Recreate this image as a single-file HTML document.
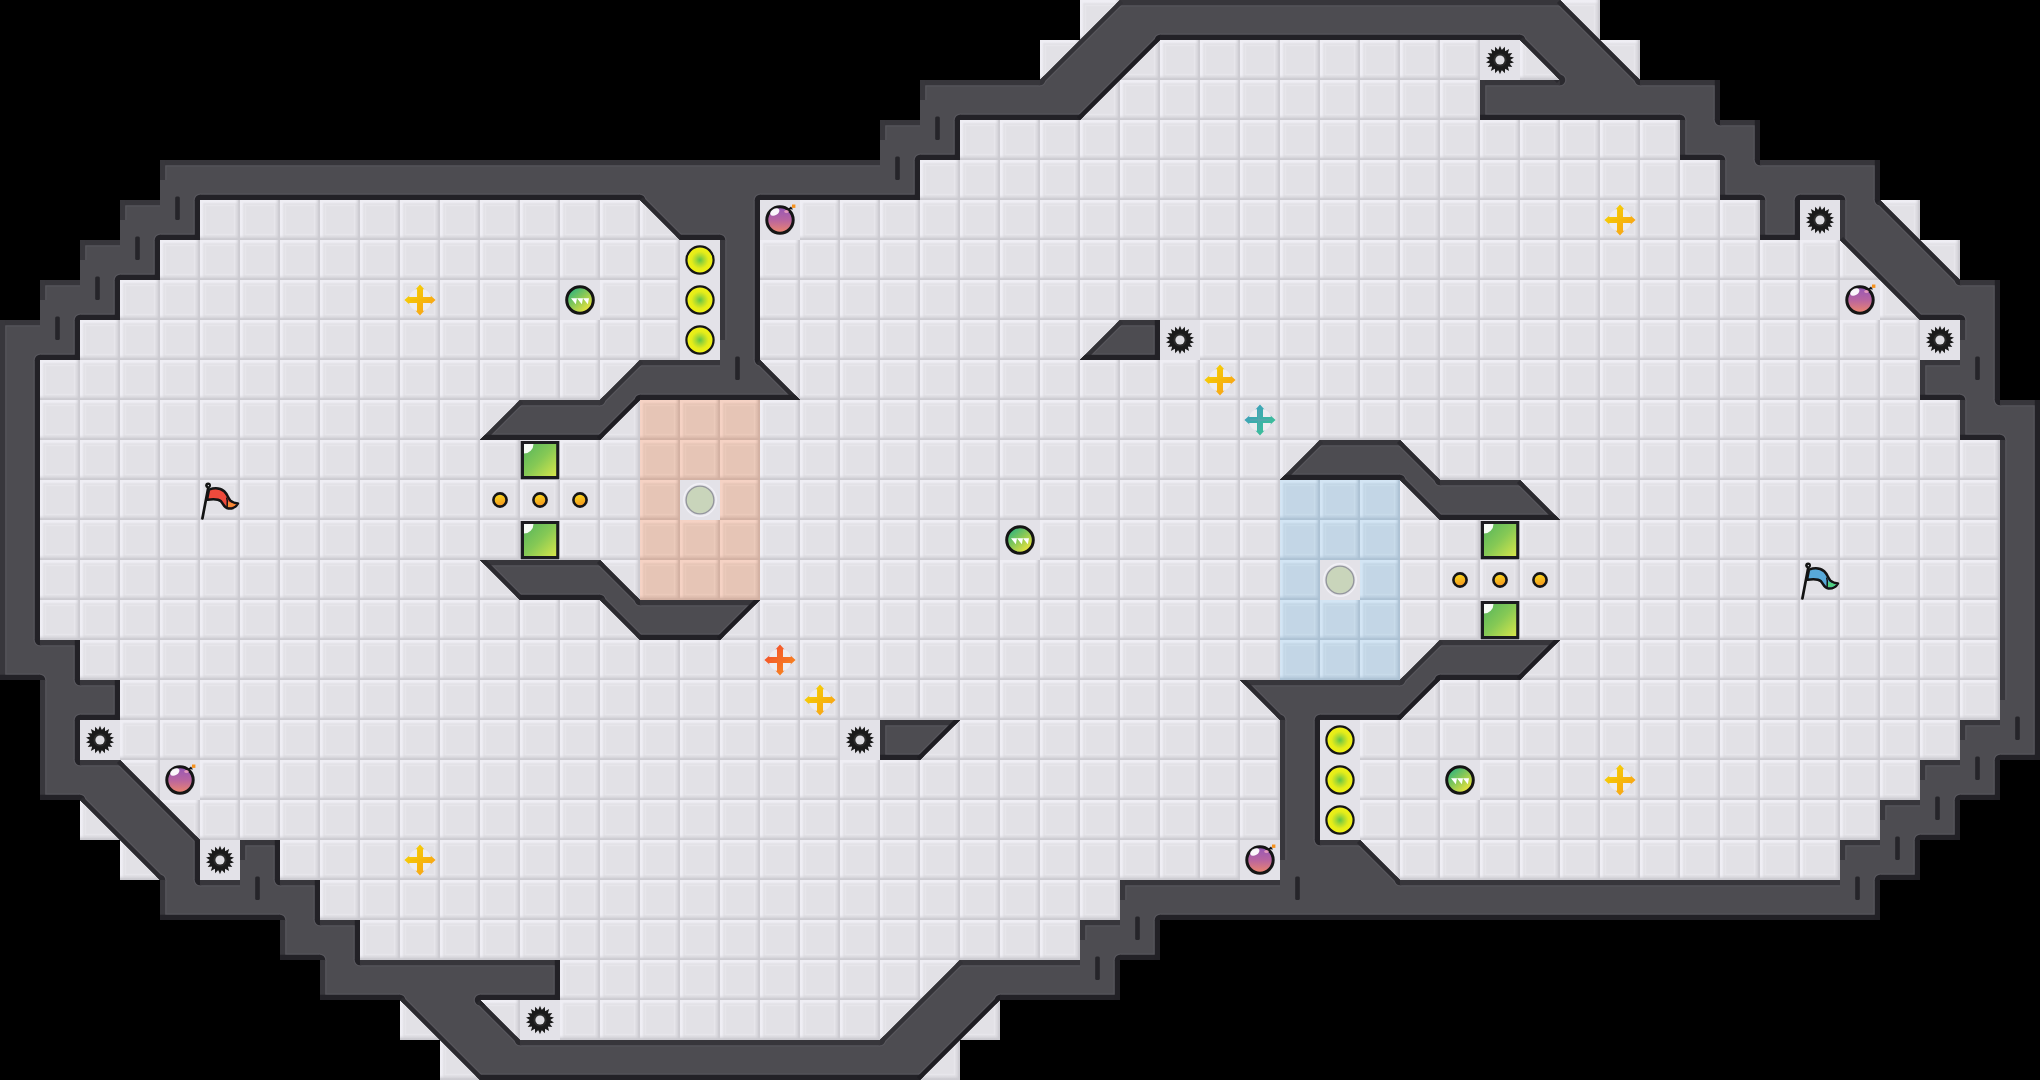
<!DOCTYPE html><html><head><meta charset="utf-8"><title>map</title><style>html,body{margin:0;padding:0;background:#000;overflow:hidden}svg{display:block;filter:blur(0.4px)}</style></head><body>
<svg width="2040" height="1080" viewBox="0 0 2040 1080">
<defs>
<linearGradient id="pfl" x1="0" y1="0" x2="1" y2="0"><stop offset="0" stop-color="#efeef4"/><stop offset="0.5" stop-color="#efeef4"/><stop offset="1" stop-color="#efeef4" stop-opacity="0"/></linearGradient><linearGradient id="pft" x1="0" y1="0" x2="0" y2="1"><stop offset="0" stop-color="#efeef4"/><stop offset="0.5" stop-color="#efeef4"/><stop offset="1" stop-color="#efeef4" stop-opacity="0"/></linearGradient><linearGradient id="pfr" x1="0" y1="0" x2="1" y2="0"><stop offset="0" stop-color="#cccbd1" stop-opacity="0"/><stop offset="0.45" stop-color="#cccbd1" stop-opacity="0.4"/><stop offset="0.75" stop-color="#cccbd1"/><stop offset="1" stop-color="#cccbd1"/></linearGradient><linearGradient id="pfb" x1="0" y1="0" x2="0" y2="1"><stop offset="0" stop-color="#cccbd1" stop-opacity="0"/><stop offset="0.45" stop-color="#cccbd1" stop-opacity="0.4"/><stop offset="0.75" stop-color="#cccbd1"/><stop offset="1" stop-color="#cccbd1"/></linearGradient><pattern id="pf" width="40" height="40" patternUnits="userSpaceOnUse"><rect width="40" height="40" fill="#e2e1e6"/><rect x="5.5" y="5.5" width="29" height="29" fill="none" stroke="#e7e6eb" stroke-width="1.4"/><rect x="0" y="0" width="40" height="4" fill="url(#pft)"/><rect x="0" y="0" width="4" height="40" fill="url(#pfl)"/><rect x="0" y="35" width="40" height="5" fill="url(#pfb)"/><rect x="35" y="0" width="5" height="40" fill="url(#pfr)"/></pattern>
<linearGradient id="prl" x1="0" y1="0" x2="1" y2="0"><stop offset="0" stop-color="#f5d2c4"/><stop offset="0.5" stop-color="#f5d2c4"/><stop offset="1" stop-color="#f5d2c4" stop-opacity="0"/></linearGradient><linearGradient id="prt" x1="0" y1="0" x2="0" y2="1"><stop offset="0" stop-color="#f5d2c4"/><stop offset="0.5" stop-color="#f5d2c4"/><stop offset="1" stop-color="#f5d2c4" stop-opacity="0"/></linearGradient><linearGradient id="prr" x1="0" y1="0" x2="1" y2="0"><stop offset="0" stop-color="#d3b1a3" stop-opacity="0"/><stop offset="0.45" stop-color="#d3b1a3" stop-opacity="0.4"/><stop offset="0.75" stop-color="#d3b1a3"/><stop offset="1" stop-color="#d3b1a3"/></linearGradient><linearGradient id="prb" x1="0" y1="0" x2="0" y2="1"><stop offset="0" stop-color="#d3b1a3" stop-opacity="0"/><stop offset="0.45" stop-color="#d3b1a3" stop-opacity="0.4"/><stop offset="0.75" stop-color="#d3b1a3"/><stop offset="1" stop-color="#d3b1a3"/></linearGradient><pattern id="pr" width="40" height="40" patternUnits="userSpaceOnUse"><rect width="40" height="40" fill="#e6c5b6"/><rect x="5.5" y="5.5" width="29" height="29" fill="none" stroke="#ebcabb" stroke-width="1.4"/><rect x="0" y="0" width="40" height="4" fill="url(#prt)"/><rect x="0" y="0" width="4" height="40" fill="url(#prl)"/><rect x="0" y="35" width="40" height="5" fill="url(#prb)"/><rect x="35" y="0" width="5" height="40" fill="url(#prr)"/></pattern>
<linearGradient id="pul" x1="0" y1="0" x2="1" y2="0"><stop offset="0" stop-color="#d3e5f4"/><stop offset="0.5" stop-color="#d3e5f4"/><stop offset="1" stop-color="#d3e5f4" stop-opacity="0"/></linearGradient><linearGradient id="put" x1="0" y1="0" x2="0" y2="1"><stop offset="0" stop-color="#d3e5f4"/><stop offset="0.5" stop-color="#d3e5f4"/><stop offset="1" stop-color="#d3e5f4" stop-opacity="0"/></linearGradient><linearGradient id="pur" x1="0" y1="0" x2="1" y2="0"><stop offset="0" stop-color="#adc2d4" stop-opacity="0"/><stop offset="0.45" stop-color="#adc2d4" stop-opacity="0.4"/><stop offset="0.75" stop-color="#adc2d4"/><stop offset="1" stop-color="#adc2d4"/></linearGradient><linearGradient id="pub" x1="0" y1="0" x2="0" y2="1"><stop offset="0" stop-color="#adc2d4" stop-opacity="0"/><stop offset="0.45" stop-color="#adc2d4" stop-opacity="0.4"/><stop offset="0.75" stop-color="#adc2d4"/><stop offset="1" stop-color="#adc2d4"/></linearGradient><pattern id="pu" width="40" height="40" patternUnits="userSpaceOnUse"><rect width="40" height="40" fill="#c3d6e6"/><rect x="5.5" y="5.5" width="29" height="29" fill="none" stroke="#c8dbea" stroke-width="1.4"/><rect x="0" y="0" width="40" height="4" fill="url(#put)"/><rect x="0" y="0" width="4" height="40" fill="url(#pul)"/><rect x="0" y="35" width="40" height="5" fill="url(#pub)"/><rect x="35" y="0" width="5" height="40" fill="url(#pur)"/></pattern>
<linearGradient id="gb" x1="0" y1="0" x2="0" y2="1"><stop offset="0" stop-color="#9457b8"/><stop offset="0.5" stop-color="#b865a0"/><stop offset="1" stop-color="#ee866a"/></linearGradient>
<linearGradient id="gy" x1="0" y1="0" x2="1" y2="1"><stop offset="0" stop-color="#f4dc00"/><stop offset="1" stop-color="#f9981c"/></linearGradient>
<linearGradient id="go" x1="0" y1="0" x2="1" y2="1"><stop offset="0" stop-color="#f3452e"/><stop offset="1" stop-color="#f8921e"/></linearGradient>
<linearGradient id="gt" x1="0" y1="0" x2="1" y2="1"><stop offset="0" stop-color="#3f97c6"/><stop offset="1" stop-color="#3bc98c"/></linearGradient>
<linearGradient id="gp" x1="0.15" y1="0.1" x2="0.85" y2="0.9"><stop offset="0" stop-color="#2fb37e"/><stop offset="0.45" stop-color="#86c858"/><stop offset="1" stop-color="#f4e63a"/></linearGradient>
<radialGradient id="gg" cx="0.5" cy="0.5" r="0.5"><stop offset="0" stop-color="#5ec548"/><stop offset="0.3" stop-color="#a6d832"/><stop offset="0.62" stop-color="#e4ec1a"/><stop offset="1" stop-color="#f2f314"/></radialGradient>
<linearGradient id="gga" x1="0" y1="0" x2="1" y2="1"><stop offset="0" stop-color="#55b55c"/><stop offset="0.5" stop-color="#86c955"/><stop offset="1" stop-color="#d6e64a"/></linearGradient>
<linearGradient id="gbt" x1="0" y1="0" x2="0.3" y2="1"><stop offset="0" stop-color="#f8e41c"/><stop offset="1" stop-color="#f59a20"/></linearGradient>

<g id="spike"><polygon points="0.00,-14.20 1.77,-10.05 4.86,-13.34 5.10,-8.83 9.13,-10.88 7.81,-6.56 12.30,-7.10 9.58,-3.49 13.98,-2.47 10.20,0.00 13.98,2.47 9.58,3.49 12.30,7.10 7.81,6.56 9.13,10.88 5.10,8.83 4.86,13.34 1.77,10.05 0.00,14.20 -1.77,10.05 -4.86,13.34 -5.10,8.83 -9.13,10.88 -7.81,6.56 -12.30,7.10 -9.58,3.49 -13.98,2.47 -10.20,0.00 -13.98,-2.47 -9.58,-3.49 -12.30,-7.10 -7.81,-6.56 -9.13,-10.88 -5.10,-8.83 -4.86,-13.34 -1.77,-10.05" fill="#1b1b1b"/><circle r="10.4" fill="#1b1b1b"/><circle r="6.6" fill="#2b2b2b"/><circle r="4.6" fill="#dedde2"/></g>
<g id="bomb"><circle r="13.2" fill="url(#gb)" stroke="#151515" stroke-width="3"/><path d="M8,-11 L11,-13.5 L13,-10.5 Z" fill="#151515"/><ellipse cx="-5.2" cy="-8" rx="5" ry="3.2" fill="#fff" opacity="0.95" transform="rotate(-30 -5.2 -8)"/><ellipse cx="6.5" cy="-8.5" rx="2.2" ry="1.6" fill="#f3a6c0" opacity="0.8"/><rect x="12" y="-15.5" width="3.4" height="3.4" fill="#f7931e"/></g>
<g id="by"><circle r="12" fill="#fff" opacity="0.42"/><circle r="12" fill="none" stroke="#dcdaea" stroke-width="1" opacity="0.6"/><path d="M-3.0,-3.0 L-3.0,-11.0 L-4.7,-10.2 L0,-15.6 L4.7,-10.2 L3.0,-11.0 L3.0,-3.0 L11.0,-3.0 L10.2,-4.7 L15.6,0 L10.2,4.7 L11.0,3.0 L3.0,3.0 L3.0,11.0 L4.7,10.2 L0,15.6 L-4.7,10.2 L-3.0,11.0 L-3.0,3.0 L-11.0,3.0 L-10.2,4.7 L-15.6,0 L-10.2,-4.7 L-11.0,-3.0 Z" fill="url(#gy)"/><path d="M-1,-10 V10 M-10,0 H10" stroke="#f6b800" stroke-width="1.3" opacity="0.55" fill="none"/></g>
<g id="bo"><circle r="12" fill="#fff" opacity="0.42"/><circle r="12" fill="none" stroke="#dcdaea" stroke-width="1" opacity="0.6"/><path d="M-3.0,-3.0 L-3.0,-11.0 L-4.7,-10.2 L0,-15.6 L4.7,-10.2 L3.0,-11.0 L3.0,-3.0 L11.0,-3.0 L10.2,-4.7 L15.6,0 L10.2,4.7 L11.0,3.0 L3.0,3.0 L3.0,11.0 L4.7,10.2 L0,15.6 L-4.7,10.2 L-3.0,11.0 L-3.0,3.0 L-11.0,3.0 L-10.2,4.7 L-15.6,0 L-10.2,-4.7 L-11.0,-3.0 Z" fill="url(#go)"/><path d="M-1,-10 V10 M-10,0 H10" stroke="#f0702a" stroke-width="1.3" opacity="0.55" fill="none"/></g>
<g id="bt"><circle r="12" fill="#fff" opacity="0.42"/><circle r="12" fill="none" stroke="#dcdaea" stroke-width="1" opacity="0.6"/><path d="M-3.0,-3.0 L-3.0,-11.0 L-4.7,-10.2 L0,-15.6 L4.7,-10.2 L3.0,-11.0 L3.0,-3.0 L11.0,-3.0 L10.2,-4.7 L15.6,0 L10.2,4.7 L11.0,3.0 L3.0,3.0 L3.0,11.0 L4.7,10.2 L0,15.6 L-4.7,10.2 L-3.0,11.0 L-3.0,3.0 L-11.0,3.0 L-10.2,4.7 L-15.6,0 L-10.2,-4.7 L-11.0,-3.0 Z" fill="url(#gt)"/><path d="M-1,-10 V10 M-10,0 H10" stroke="#6f9fb0" stroke-width="1.3" opacity="0.55" fill="none"/></g>
<g id="pup"><circle r="13.3" fill="url(#gp)" stroke="#151515" stroke-width="3"/><path d="M-9,-1.8 h6 l-1.2,6 Z M-3,-1.8 h6 l-1.2,6 Z M3,-1.8 h6 l-1.2,6 Z" fill="#fff"/></g>
<g id="ball"><circle r="13.6" fill="url(#gg)" stroke="#151515" stroke-width="2.2"/></g>
<g id="gate"><rect x="-20" y="-20" width="40" height="40" fill="#e3e2e8"/><rect x="-19.3" y="-19" width="38.6" height="38.3" fill="#1c1c20"/><rect x="-16" y="-16" width="32.2" height="32" fill="url(#gga)"/><path d="M-16,-16 h9.5 a9.5,9.5 0 0 1 -9.5,9.5 Z" fill="#fff" opacity="0.95"/></g>
<g id="btn"><circle r="6.6" fill="url(#gbt)" stroke="#151515" stroke-width="2.6"/></g>
<g id="disc"><circle r="16.2" fill="none" stroke="#f1f0f6" stroke-width="1.4"/><circle r="13.9" fill="#c9d5bb" stroke="#94969d" stroke-width="1.4"/></g>
<g id="fr"><path d="M-17.6,18.4 L-11.8,-12" stroke="#141414" stroke-width="2.7" stroke-linecap="round" fill="none"/><circle cx="-11.9" cy="-14.7" r="2.9" fill="#141414"/><circle cx="-11.6" cy="-14.4" r="0.7" fill="#e8e8ec"/><path d="M-11,-10.4 C-6,-12.2 0,-12.2 4.2,-8.8 C7.4,-6 8,-1.8 10.5,0.7 C13,2.9 15.8,3.3 18,3.5 C16.4,6.4 12.6,8.8 8.4,8.6 C4,8.2 3.5,4 1,1.3 C-2.5,-1.8 -8,-0.9 -13,-0.2 Z" fill="#ee4a3c" stroke="#141414" stroke-width="2.5" stroke-linejoin="round"/><path d="M7.4,1.6 L16,4.4 C14,6.5 11,7.4 7.4,7 Z" fill="#f58a34"/><path d="M6.6,-2.5 C8,1 7.4,4 7,7.6" stroke="#141414" stroke-width="1.5" fill="none"/></g>
<g id="fb"><path d="M-17.6,18.4 L-11.8,-12" stroke="#141414" stroke-width="2.7" stroke-linecap="round" fill="none"/><circle cx="-11.9" cy="-14.7" r="2.9" fill="#141414"/><circle cx="-11.6" cy="-14.4" r="0.7" fill="#e8e8ec"/><path d="M-11,-10.4 C-6,-12.2 0,-12.2 4.2,-8.8 C7.4,-6 8,-1.8 10.5,0.7 C13,2.9 15.8,3.3 18,3.5 C16.4,6.4 12.6,8.8 8.4,8.6 C4,8.2 3.5,4 1,1.3 C-2.5,-1.8 -8,-0.9 -13,-0.2 Z" fill="#58a9d9" stroke="#141414" stroke-width="2.5" stroke-linejoin="round"/><path d="M7.4,1.6 L16,4.4 C14,6.5 11,7.4 7.4,7 Z" fill="#4fcf7e"/><path d="M6.6,-2.5 C8,1 7.4,4 7,7.6" stroke="#141414" stroke-width="1.5" fill="none"/></g>
<clipPath id="wc"><path d="M1120,0 1120,40 1080,40ZM1120,0 1160,0 1160,40 1120,40ZM1160,0 1200,0 1200,40 1160,40ZM1200,0 1240,0 1240,40 1200,40ZM1240,0 1280,0 1280,40 1240,40ZM1280,0 1320,0 1320,40 1280,40ZM1320,0 1360,0 1360,40 1320,40ZM1360,0 1400,0 1400,40 1360,40ZM1400,0 1440,0 1440,40 1400,40ZM1440,0 1480,0 1480,40 1440,40ZM1480,0 1520,0 1520,40 1480,40ZM1520,0 1560,0 1560,40 1520,40ZM1560,0 1600,40 1560,40ZM1080,40 1080,80 1040,80ZM1080,40 1120,40 1120,80 1080,80ZM1120,40 1160,40 1120,80ZM1520,40 1560,40 1560,80ZM1560,40 1600,40 1600,80 1560,80ZM1600,40 1640,80 1600,80ZM920,80 960,80 960,120 920,120ZM960,80 1000,80 1000,120 960,120ZM1000,80 1040,80 1040,120 1000,120ZM1040,80 1080,80 1080,120 1040,120ZM1080,80 1120,80 1080,120ZM1480,80 1520,80 1520,120 1480,120ZM1520,80 1560,80 1560,120 1520,120ZM1560,80 1600,80 1600,120 1560,120ZM1600,80 1640,80 1640,120 1600,120ZM1640,80 1680,80 1680,120 1640,120ZM1680,80 1720,80 1720,120 1680,120ZM880,120 920,120 920,160 880,160ZM920,120 960,120 960,160 920,160ZM1680,120 1720,120 1720,160 1680,160ZM1720,120 1760,120 1760,160 1720,160ZM160,160 200,160 200,200 160,200ZM200,160 240,160 240,200 200,200ZM240,160 280,160 280,200 240,200ZM280,160 320,160 320,200 280,200ZM320,160 360,160 360,200 320,200ZM360,160 400,160 400,200 360,200ZM400,160 440,160 440,200 400,200ZM440,160 480,160 480,200 440,200ZM480,160 520,160 520,200 480,200ZM520,160 560,160 560,200 520,200ZM560,160 600,160 600,200 560,200ZM600,160 640,160 640,200 600,200ZM640,160 680,160 680,200 640,200ZM680,160 720,160 720,200 680,200ZM720,160 760,160 760,200 720,200ZM760,160 800,160 800,200 760,200ZM800,160 840,160 840,200 800,200ZM840,160 880,160 880,200 840,200ZM880,160 920,160 920,200 880,200ZM1720,160 1760,160 1760,200 1720,200ZM1760,160 1800,160 1800,200 1760,200ZM1800,160 1840,160 1840,200 1800,200ZM1840,160 1880,160 1880,200 1840,200ZM120,200 160,200 160,240 120,240ZM160,200 200,200 200,240 160,240ZM640,200 680,200 680,240ZM680,200 720,200 720,240 680,240ZM720,200 760,200 760,240 720,240ZM1760,200 1800,200 1800,240 1760,240ZM1840,200 1880,200 1880,240 1840,240ZM1880,200 1920,240 1880,240ZM80,240 120,240 120,280 80,280ZM120,240 160,240 160,280 120,280ZM720,240 760,240 760,280 720,280ZM1840,240 1880,240 1880,280ZM1880,240 1920,240 1920,280 1880,280ZM1920,240 1960,280 1920,280ZM40,280 80,280 80,320 40,320ZM80,280 120,280 120,320 80,320ZM720,280 760,280 760,320 720,320ZM1880,280 1920,280 1920,320ZM1920,280 1960,280 1960,320 1920,320ZM1960,280 2000,280 2000,320 1960,320ZM0,320 40,320 40,360 0,360ZM40,320 80,320 80,360 40,360ZM720,320 760,320 760,360 720,360ZM1120,320 1120,360 1080,360ZM1120,320 1160,320 1160,360 1120,360ZM1960,320 2000,320 2000,360 1960,360ZM0,360 40,360 40,400 0,400ZM640,360 640,400 600,400ZM640,360 680,360 680,400 640,400ZM680,360 720,360 720,400 680,400ZM720,360 760,360 760,400 720,400ZM760,360 800,400 760,400ZM1920,360 1960,360 1960,400 1920,400ZM1960,360 2000,360 2000,400 1960,400ZM0,400 40,400 40,440 0,440ZM520,400 520,440 480,440ZM520,400 560,400 560,440 520,440ZM560,400 600,400 600,440 560,440ZM600,400 640,400 600,440ZM1960,400 2000,400 2000,440 1960,440ZM2000,400 2040,400 2040,440 2000,440ZM0,440 40,440 40,480 0,480ZM1320,440 1320,480 1280,480ZM1320,440 1360,440 1360,480 1320,480ZM1360,440 1400,440 1400,480 1360,480ZM1400,440 1440,480 1400,480ZM2000,440 2040,440 2040,480 2000,480ZM0,480 40,480 40,520 0,520ZM1400,480 1440,480 1440,520ZM1440,480 1480,480 1480,520 1440,520ZM1480,480 1520,480 1520,520 1480,520ZM1520,480 1560,520 1520,520ZM2000,480 2040,480 2040,520 2000,520ZM0,520 40,520 40,560 0,560ZM2000,520 2040,520 2040,560 2000,560ZM0,560 40,560 40,600 0,600ZM480,560 520,560 520,600ZM520,560 560,560 560,600 520,600ZM560,560 600,560 600,600 560,600ZM600,560 640,600 600,600ZM2000,560 2040,560 2040,600 2000,600ZM0,600 40,600 40,640 0,640ZM600,600 640,600 640,640ZM640,600 680,600 680,640 640,640ZM680,600 720,600 720,640 680,640ZM720,600 760,600 720,640ZM2000,600 2040,600 2040,640 2000,640ZM0,640 40,640 40,680 0,680ZM40,640 80,640 80,680 40,680ZM1440,640 1440,680 1400,680ZM1440,640 1480,640 1480,680 1440,680ZM1480,640 1520,640 1520,680 1480,680ZM1520,640 1560,640 1520,680ZM2000,640 2040,640 2040,680 2000,680ZM40,680 80,680 80,720 40,720ZM80,680 120,680 120,720 80,720ZM1240,680 1280,680 1280,720ZM1280,680 1320,680 1320,720 1280,720ZM1320,680 1360,680 1360,720 1320,720ZM1360,680 1400,680 1400,720 1360,720ZM1400,680 1440,680 1400,720ZM2000,680 2040,680 2040,720 2000,720ZM40,720 80,720 80,760 40,760ZM880,720 920,720 920,760 880,760ZM920,720 960,720 920,760ZM1280,720 1320,720 1320,760 1280,760ZM1960,720 2000,720 2000,760 1960,760ZM2000,720 2040,720 2040,760 2000,760ZM40,760 80,760 80,800 40,800ZM80,760 120,760 120,800 80,800ZM120,760 160,800 120,800ZM1280,760 1320,760 1320,800 1280,800ZM1920,760 1960,760 1960,800 1920,800ZM1960,760 2000,760 2000,800 1960,800ZM80,800 120,800 120,840ZM120,800 160,800 160,840 120,840ZM160,800 200,840 160,840ZM1280,800 1320,800 1320,840 1280,840ZM1880,800 1920,800 1920,840 1880,840ZM1920,800 1960,800 1960,840 1920,840ZM120,840 160,840 160,880ZM160,840 200,840 200,880 160,880ZM240,840 280,840 280,880 240,880ZM1280,840 1320,840 1320,880 1280,880ZM1320,840 1360,840 1360,880 1320,880ZM1360,840 1400,880 1360,880ZM1840,840 1880,840 1880,880 1840,880ZM1880,840 1920,840 1920,880 1880,880ZM160,880 200,880 200,920 160,920ZM200,880 240,880 240,920 200,920ZM240,880 280,880 280,920 240,920ZM280,880 320,880 320,920 280,920ZM1120,880 1160,880 1160,920 1120,920ZM1160,880 1200,880 1200,920 1160,920ZM1200,880 1240,880 1240,920 1200,920ZM1240,880 1280,880 1280,920 1240,920ZM1280,880 1320,880 1320,920 1280,920ZM1320,880 1360,880 1360,920 1320,920ZM1360,880 1400,880 1400,920 1360,920ZM1400,880 1440,880 1440,920 1400,920ZM1440,880 1480,880 1480,920 1440,920ZM1480,880 1520,880 1520,920 1480,920ZM1520,880 1560,880 1560,920 1520,920ZM1560,880 1600,880 1600,920 1560,920ZM1600,880 1640,880 1640,920 1600,920ZM1640,880 1680,880 1680,920 1640,920ZM1680,880 1720,880 1720,920 1680,920ZM1720,880 1760,880 1760,920 1720,920ZM1760,880 1800,880 1800,920 1760,920ZM1800,880 1840,880 1840,920 1800,920ZM1840,880 1880,880 1880,920 1840,920ZM280,920 320,920 320,960 280,960ZM320,920 360,920 360,960 320,960ZM1080,920 1120,920 1120,960 1080,960ZM1120,920 1160,920 1160,960 1120,960ZM320,960 360,960 360,1000 320,1000ZM360,960 400,960 400,1000 360,1000ZM400,960 440,960 440,1000 400,1000ZM440,960 480,960 480,1000 440,1000ZM480,960 520,960 520,1000 480,1000ZM520,960 560,960 560,1000 520,1000ZM960,960 960,1000 920,1000ZM960,960 1000,960 1000,1000 960,1000ZM1000,960 1040,960 1040,1000 1000,1000ZM1040,960 1080,960 1080,1000 1040,1000ZM1080,960 1120,960 1120,1000 1080,1000ZM400,1000 440,1000 440,1040ZM440,1000 480,1000 480,1040 440,1040ZM480,1000 520,1040 480,1040ZM920,1000 920,1040 880,1040ZM920,1000 960,1000 960,1040 920,1040ZM960,1000 1000,1000 960,1040ZM440,1040 480,1040 480,1080ZM480,1040 520,1040 520,1080 480,1080ZM520,1040 560,1040 560,1080 520,1080ZM560,1040 600,1040 600,1080 560,1080ZM600,1040 640,1040 640,1080 600,1080ZM640,1040 680,1040 680,1080 640,1080ZM680,1040 720,1040 720,1080 680,1080ZM720,1040 760,1040 760,1080 720,1080ZM760,1040 800,1040 800,1080 760,1080ZM800,1040 840,1040 840,1080 800,1080ZM840,1040 880,1040 880,1080 840,1080ZM880,1040 920,1040 920,1080 880,1080ZM920,1040 960,1040 920,1080Z"/></clipPath>
</defs>
<rect width="2040" height="1080" fill="#000"/>
<path d="M1080,0h40v40h-40zM1560,0h40v40h-40zM1040,40h40v40h-40zM1120,40h40v40h-40zM1160,40h40v40h-40zM1200,40h40v40h-40zM1240,40h40v40h-40zM1280,40h40v40h-40zM1320,40h40v40h-40zM1360,40h40v40h-40zM1400,40h40v40h-40zM1440,40h40v40h-40zM1520,40h40v40h-40zM1600,40h40v40h-40zM1080,80h40v40h-40zM1120,80h40v40h-40zM1160,80h40v40h-40zM1200,80h40v40h-40zM1240,80h40v40h-40zM1280,80h40v40h-40zM1320,80h40v40h-40zM1360,80h40v40h-40zM1400,80h40v40h-40zM1440,80h40v40h-40zM960,120h40v40h-40zM1000,120h40v40h-40zM1040,120h40v40h-40zM1080,120h40v40h-40zM1120,120h40v40h-40zM1160,120h40v40h-40zM1200,120h40v40h-40zM1240,120h40v40h-40zM1280,120h40v40h-40zM1320,120h40v40h-40zM1360,120h40v40h-40zM1400,120h40v40h-40zM1440,120h40v40h-40zM1480,120h40v40h-40zM1520,120h40v40h-40zM1560,120h40v40h-40zM1600,120h40v40h-40zM1640,120h40v40h-40zM920,160h40v40h-40zM960,160h40v40h-40zM1000,160h40v40h-40zM1040,160h40v40h-40zM1080,160h40v40h-40zM1120,160h40v40h-40zM1160,160h40v40h-40zM1200,160h40v40h-40zM1240,160h40v40h-40zM1280,160h40v40h-40zM1320,160h40v40h-40zM1360,160h40v40h-40zM1400,160h40v40h-40zM1440,160h40v40h-40zM1480,160h40v40h-40zM1520,160h40v40h-40zM1560,160h40v40h-40zM1600,160h40v40h-40zM1640,160h40v40h-40zM1680,160h40v40h-40zM200,200h40v40h-40zM240,200h40v40h-40zM280,200h40v40h-40zM320,200h40v40h-40zM360,200h40v40h-40zM400,200h40v40h-40zM440,200h40v40h-40zM480,200h40v40h-40zM520,200h40v40h-40zM560,200h40v40h-40zM600,200h40v40h-40zM640,200h40v40h-40zM800,200h40v40h-40zM840,200h40v40h-40zM880,200h40v40h-40zM920,200h40v40h-40zM960,200h40v40h-40zM1000,200h40v40h-40zM1040,200h40v40h-40zM1080,200h40v40h-40zM1120,200h40v40h-40zM1160,200h40v40h-40zM1200,200h40v40h-40zM1240,200h40v40h-40zM1280,200h40v40h-40zM1320,200h40v40h-40zM1360,200h40v40h-40zM1400,200h40v40h-40zM1440,200h40v40h-40zM1480,200h40v40h-40zM1520,200h40v40h-40zM1560,200h40v40h-40zM1600,200h40v40h-40zM1640,200h40v40h-40zM1680,200h40v40h-40zM1720,200h40v40h-40zM1880,200h40v40h-40zM160,240h40v40h-40zM200,240h40v40h-40zM240,240h40v40h-40zM280,240h40v40h-40zM320,240h40v40h-40zM360,240h40v40h-40zM400,240h40v40h-40zM440,240h40v40h-40zM480,240h40v40h-40zM520,240h40v40h-40zM560,240h40v40h-40zM600,240h40v40h-40zM640,240h40v40h-40zM760,240h40v40h-40zM800,240h40v40h-40zM840,240h40v40h-40zM880,240h40v40h-40zM920,240h40v40h-40zM960,240h40v40h-40zM1000,240h40v40h-40zM1040,240h40v40h-40zM1080,240h40v40h-40zM1120,240h40v40h-40zM1160,240h40v40h-40zM1200,240h40v40h-40zM1240,240h40v40h-40zM1280,240h40v40h-40zM1320,240h40v40h-40zM1360,240h40v40h-40zM1400,240h40v40h-40zM1440,240h40v40h-40zM1480,240h40v40h-40zM1520,240h40v40h-40zM1560,240h40v40h-40zM1600,240h40v40h-40zM1640,240h40v40h-40zM1680,240h40v40h-40zM1720,240h40v40h-40zM1760,240h40v40h-40zM1800,240h40v40h-40zM1840,240h40v40h-40zM1920,240h40v40h-40zM120,280h40v40h-40zM160,280h40v40h-40zM200,280h40v40h-40zM240,280h40v40h-40zM280,280h40v40h-40zM320,280h40v40h-40zM360,280h40v40h-40zM400,280h40v40h-40zM440,280h40v40h-40zM480,280h40v40h-40zM520,280h40v40h-40zM600,280h40v40h-40zM640,280h40v40h-40zM760,280h40v40h-40zM800,280h40v40h-40zM840,280h40v40h-40zM880,280h40v40h-40zM920,280h40v40h-40zM960,280h40v40h-40zM1000,280h40v40h-40zM1040,280h40v40h-40zM1080,280h40v40h-40zM1120,280h40v40h-40zM1160,280h40v40h-40zM1200,280h40v40h-40zM1240,280h40v40h-40zM1280,280h40v40h-40zM1320,280h40v40h-40zM1360,280h40v40h-40zM1400,280h40v40h-40zM1440,280h40v40h-40zM1480,280h40v40h-40zM1520,280h40v40h-40zM1560,280h40v40h-40zM1600,280h40v40h-40zM1640,280h40v40h-40zM1680,280h40v40h-40zM1720,280h40v40h-40zM1760,280h40v40h-40zM1800,280h40v40h-40zM1880,280h40v40h-40zM80,320h40v40h-40zM120,320h40v40h-40zM160,320h40v40h-40zM200,320h40v40h-40zM240,320h40v40h-40zM280,320h40v40h-40zM320,320h40v40h-40zM360,320h40v40h-40zM400,320h40v40h-40zM440,320h40v40h-40zM480,320h40v40h-40zM520,320h40v40h-40zM560,320h40v40h-40zM600,320h40v40h-40zM640,320h40v40h-40zM760,320h40v40h-40zM800,320h40v40h-40zM840,320h40v40h-40zM880,320h40v40h-40zM920,320h40v40h-40zM960,320h40v40h-40zM1000,320h40v40h-40zM1040,320h40v40h-40zM1080,320h40v40h-40zM1200,320h40v40h-40zM1240,320h40v40h-40zM1280,320h40v40h-40zM1320,320h40v40h-40zM1360,320h40v40h-40zM1400,320h40v40h-40zM1440,320h40v40h-40zM1480,320h40v40h-40zM1520,320h40v40h-40zM1560,320h40v40h-40zM1600,320h40v40h-40zM1640,320h40v40h-40zM1680,320h40v40h-40zM1720,320h40v40h-40zM1760,320h40v40h-40zM1800,320h40v40h-40zM1840,320h40v40h-40zM1880,320h40v40h-40zM40,360h40v40h-40zM80,360h40v40h-40zM120,360h40v40h-40zM160,360h40v40h-40zM200,360h40v40h-40zM240,360h40v40h-40zM280,360h40v40h-40zM320,360h40v40h-40zM360,360h40v40h-40zM400,360h40v40h-40zM440,360h40v40h-40zM480,360h40v40h-40zM520,360h40v40h-40zM560,360h40v40h-40zM600,360h40v40h-40zM760,360h40v40h-40zM800,360h40v40h-40zM840,360h40v40h-40zM880,360h40v40h-40zM920,360h40v40h-40zM960,360h40v40h-40zM1000,360h40v40h-40zM1040,360h40v40h-40zM1080,360h40v40h-40zM1120,360h40v40h-40zM1160,360h40v40h-40zM1200,360h40v40h-40zM1240,360h40v40h-40zM1280,360h40v40h-40zM1320,360h40v40h-40zM1360,360h40v40h-40zM1400,360h40v40h-40zM1440,360h40v40h-40zM1480,360h40v40h-40zM1520,360h40v40h-40zM1560,360h40v40h-40zM1600,360h40v40h-40zM1640,360h40v40h-40zM1680,360h40v40h-40zM1720,360h40v40h-40zM1760,360h40v40h-40zM1800,360h40v40h-40zM1840,360h40v40h-40zM1880,360h40v40h-40zM40,400h40v40h-40zM80,400h40v40h-40zM120,400h40v40h-40zM160,400h40v40h-40zM200,400h40v40h-40zM240,400h40v40h-40zM280,400h40v40h-40zM320,400h40v40h-40zM360,400h40v40h-40zM400,400h40v40h-40zM440,400h40v40h-40zM480,400h40v40h-40zM600,400h40v40h-40zM760,400h40v40h-40zM800,400h40v40h-40zM840,400h40v40h-40zM880,400h40v40h-40zM920,400h40v40h-40zM960,400h40v40h-40zM1000,400h40v40h-40zM1040,400h40v40h-40zM1080,400h40v40h-40zM1120,400h40v40h-40zM1160,400h40v40h-40zM1200,400h40v40h-40zM1240,400h40v40h-40zM1280,400h40v40h-40zM1320,400h40v40h-40zM1360,400h40v40h-40zM1400,400h40v40h-40zM1440,400h40v40h-40zM1480,400h40v40h-40zM1520,400h40v40h-40zM1560,400h40v40h-40zM1600,400h40v40h-40zM1640,400h40v40h-40zM1680,400h40v40h-40zM1720,400h40v40h-40zM1760,400h40v40h-40zM1800,400h40v40h-40zM1840,400h40v40h-40zM1880,400h40v40h-40zM1920,400h40v40h-40zM40,440h40v40h-40zM80,440h40v40h-40zM120,440h40v40h-40zM160,440h40v40h-40zM200,440h40v40h-40zM240,440h40v40h-40zM280,440h40v40h-40zM320,440h40v40h-40zM360,440h40v40h-40zM400,440h40v40h-40zM440,440h40v40h-40zM480,440h40v40h-40zM520,440h40v40h-40zM560,440h40v40h-40zM600,440h40v40h-40zM760,440h40v40h-40zM800,440h40v40h-40zM840,440h40v40h-40zM880,440h40v40h-40zM920,440h40v40h-40zM960,440h40v40h-40zM1000,440h40v40h-40zM1040,440h40v40h-40zM1080,440h40v40h-40zM1120,440h40v40h-40zM1160,440h40v40h-40zM1200,440h40v40h-40zM1240,440h40v40h-40zM1280,440h40v40h-40zM1400,440h40v40h-40zM1440,440h40v40h-40zM1480,440h40v40h-40zM1520,440h40v40h-40zM1560,440h40v40h-40zM1600,440h40v40h-40zM1640,440h40v40h-40zM1680,440h40v40h-40zM1720,440h40v40h-40zM1760,440h40v40h-40zM1800,440h40v40h-40zM1840,440h40v40h-40zM1880,440h40v40h-40zM1920,440h40v40h-40zM1960,440h40v40h-40zM40,480h40v40h-40zM80,480h40v40h-40zM120,480h40v40h-40zM160,480h40v40h-40zM200,480h40v40h-40zM240,480h40v40h-40zM280,480h40v40h-40zM320,480h40v40h-40zM360,480h40v40h-40zM400,480h40v40h-40zM440,480h40v40h-40zM480,480h40v40h-40zM520,480h40v40h-40zM560,480h40v40h-40zM600,480h40v40h-40zM760,480h40v40h-40zM800,480h40v40h-40zM840,480h40v40h-40zM880,480h40v40h-40zM920,480h40v40h-40zM960,480h40v40h-40zM1000,480h40v40h-40zM1040,480h40v40h-40zM1080,480h40v40h-40zM1120,480h40v40h-40zM1160,480h40v40h-40zM1200,480h40v40h-40zM1240,480h40v40h-40zM1400,480h40v40h-40zM1520,480h40v40h-40zM1560,480h40v40h-40zM1600,480h40v40h-40zM1640,480h40v40h-40zM1680,480h40v40h-40zM1720,480h40v40h-40zM1760,480h40v40h-40zM1800,480h40v40h-40zM1840,480h40v40h-40zM1880,480h40v40h-40zM1920,480h40v40h-40zM1960,480h40v40h-40zM40,520h40v40h-40zM80,520h40v40h-40zM120,520h40v40h-40zM160,520h40v40h-40zM200,520h40v40h-40zM240,520h40v40h-40zM280,520h40v40h-40zM320,520h40v40h-40zM360,520h40v40h-40zM400,520h40v40h-40zM440,520h40v40h-40zM480,520h40v40h-40zM520,520h40v40h-40zM560,520h40v40h-40zM600,520h40v40h-40zM760,520h40v40h-40zM800,520h40v40h-40zM840,520h40v40h-40zM880,520h40v40h-40zM920,520h40v40h-40zM960,520h40v40h-40zM1040,520h40v40h-40zM1080,520h40v40h-40zM1120,520h40v40h-40zM1160,520h40v40h-40zM1200,520h40v40h-40zM1240,520h40v40h-40zM1400,520h40v40h-40zM1440,520h40v40h-40zM1480,520h40v40h-40zM1520,520h40v40h-40zM1560,520h40v40h-40zM1600,520h40v40h-40zM1640,520h40v40h-40zM1680,520h40v40h-40zM1720,520h40v40h-40zM1760,520h40v40h-40zM1800,520h40v40h-40zM1840,520h40v40h-40zM1880,520h40v40h-40zM1920,520h40v40h-40zM1960,520h40v40h-40zM40,560h40v40h-40zM80,560h40v40h-40zM120,560h40v40h-40zM160,560h40v40h-40zM200,560h40v40h-40zM240,560h40v40h-40zM280,560h40v40h-40zM320,560h40v40h-40zM360,560h40v40h-40zM400,560h40v40h-40zM440,560h40v40h-40zM480,560h40v40h-40zM600,560h40v40h-40zM760,560h40v40h-40zM800,560h40v40h-40zM840,560h40v40h-40zM880,560h40v40h-40zM920,560h40v40h-40zM960,560h40v40h-40zM1000,560h40v40h-40zM1040,560h40v40h-40zM1080,560h40v40h-40zM1120,560h40v40h-40zM1160,560h40v40h-40zM1200,560h40v40h-40zM1240,560h40v40h-40zM1400,560h40v40h-40zM1440,560h40v40h-40zM1480,560h40v40h-40zM1520,560h40v40h-40zM1560,560h40v40h-40zM1600,560h40v40h-40zM1640,560h40v40h-40zM1680,560h40v40h-40zM1720,560h40v40h-40zM1760,560h40v40h-40zM1800,560h40v40h-40zM1840,560h40v40h-40zM1880,560h40v40h-40zM1920,560h40v40h-40zM1960,560h40v40h-40zM40,600h40v40h-40zM80,600h40v40h-40zM120,600h40v40h-40zM160,600h40v40h-40zM200,600h40v40h-40zM240,600h40v40h-40zM280,600h40v40h-40zM320,600h40v40h-40zM360,600h40v40h-40zM400,600h40v40h-40zM440,600h40v40h-40zM480,600h40v40h-40zM520,600h40v40h-40zM560,600h40v40h-40zM600,600h40v40h-40zM720,600h40v40h-40zM760,600h40v40h-40zM800,600h40v40h-40zM840,600h40v40h-40zM880,600h40v40h-40zM920,600h40v40h-40zM960,600h40v40h-40zM1000,600h40v40h-40zM1040,600h40v40h-40zM1080,600h40v40h-40zM1120,600h40v40h-40zM1160,600h40v40h-40zM1200,600h40v40h-40zM1240,600h40v40h-40zM1400,600h40v40h-40zM1440,600h40v40h-40zM1480,600h40v40h-40zM1520,600h40v40h-40zM1560,600h40v40h-40zM1600,600h40v40h-40zM1640,600h40v40h-40zM1680,600h40v40h-40zM1720,600h40v40h-40zM1760,600h40v40h-40zM1800,600h40v40h-40zM1840,600h40v40h-40zM1880,600h40v40h-40zM1920,600h40v40h-40zM1960,600h40v40h-40zM80,640h40v40h-40zM120,640h40v40h-40zM160,640h40v40h-40zM200,640h40v40h-40zM240,640h40v40h-40zM280,640h40v40h-40zM320,640h40v40h-40zM360,640h40v40h-40zM400,640h40v40h-40zM440,640h40v40h-40zM480,640h40v40h-40zM520,640h40v40h-40zM560,640h40v40h-40zM600,640h40v40h-40zM640,640h40v40h-40zM680,640h40v40h-40zM720,640h40v40h-40zM760,640h40v40h-40zM800,640h40v40h-40zM840,640h40v40h-40zM880,640h40v40h-40zM920,640h40v40h-40zM960,640h40v40h-40zM1000,640h40v40h-40zM1040,640h40v40h-40zM1080,640h40v40h-40zM1120,640h40v40h-40zM1160,640h40v40h-40zM1200,640h40v40h-40zM1240,640h40v40h-40zM1400,640h40v40h-40zM1520,640h40v40h-40zM1560,640h40v40h-40zM1600,640h40v40h-40zM1640,640h40v40h-40zM1680,640h40v40h-40zM1720,640h40v40h-40zM1760,640h40v40h-40zM1800,640h40v40h-40zM1840,640h40v40h-40zM1880,640h40v40h-40zM1920,640h40v40h-40zM1960,640h40v40h-40zM120,680h40v40h-40zM160,680h40v40h-40zM200,680h40v40h-40zM240,680h40v40h-40zM280,680h40v40h-40zM320,680h40v40h-40zM360,680h40v40h-40zM400,680h40v40h-40zM440,680h40v40h-40zM480,680h40v40h-40zM520,680h40v40h-40zM560,680h40v40h-40zM600,680h40v40h-40zM640,680h40v40h-40zM680,680h40v40h-40zM720,680h40v40h-40zM760,680h40v40h-40zM800,680h40v40h-40zM840,680h40v40h-40zM880,680h40v40h-40zM920,680h40v40h-40zM960,680h40v40h-40zM1000,680h40v40h-40zM1040,680h40v40h-40zM1080,680h40v40h-40zM1120,680h40v40h-40zM1160,680h40v40h-40zM1200,680h40v40h-40zM1240,680h40v40h-40zM1400,680h40v40h-40zM1440,680h40v40h-40zM1480,680h40v40h-40zM1520,680h40v40h-40zM1560,680h40v40h-40zM1600,680h40v40h-40zM1640,680h40v40h-40zM1680,680h40v40h-40zM1720,680h40v40h-40zM1760,680h40v40h-40zM1800,680h40v40h-40zM1840,680h40v40h-40zM1880,680h40v40h-40zM1920,680h40v40h-40zM1960,680h40v40h-40zM120,720h40v40h-40zM160,720h40v40h-40zM200,720h40v40h-40zM240,720h40v40h-40zM280,720h40v40h-40zM320,720h40v40h-40zM360,720h40v40h-40zM400,720h40v40h-40zM440,720h40v40h-40zM480,720h40v40h-40zM520,720h40v40h-40zM560,720h40v40h-40zM600,720h40v40h-40zM640,720h40v40h-40zM680,720h40v40h-40zM720,720h40v40h-40zM760,720h40v40h-40zM800,720h40v40h-40zM920,720h40v40h-40zM960,720h40v40h-40zM1000,720h40v40h-40zM1040,720h40v40h-40zM1080,720h40v40h-40zM1120,720h40v40h-40zM1160,720h40v40h-40zM1200,720h40v40h-40zM1240,720h40v40h-40zM1360,720h40v40h-40zM1400,720h40v40h-40zM1440,720h40v40h-40zM1480,720h40v40h-40zM1520,720h40v40h-40zM1560,720h40v40h-40zM1600,720h40v40h-40zM1640,720h40v40h-40zM1680,720h40v40h-40zM1720,720h40v40h-40zM1760,720h40v40h-40zM1800,720h40v40h-40zM1840,720h40v40h-40zM1880,720h40v40h-40zM1920,720h40v40h-40zM120,760h40v40h-40zM200,760h40v40h-40zM240,760h40v40h-40zM280,760h40v40h-40zM320,760h40v40h-40zM360,760h40v40h-40zM400,760h40v40h-40zM440,760h40v40h-40zM480,760h40v40h-40zM520,760h40v40h-40zM560,760h40v40h-40zM600,760h40v40h-40zM640,760h40v40h-40zM680,760h40v40h-40zM720,760h40v40h-40zM760,760h40v40h-40zM800,760h40v40h-40zM840,760h40v40h-40zM880,760h40v40h-40zM920,760h40v40h-40zM960,760h40v40h-40zM1000,760h40v40h-40zM1040,760h40v40h-40zM1080,760h40v40h-40zM1120,760h40v40h-40zM1160,760h40v40h-40zM1200,760h40v40h-40zM1240,760h40v40h-40zM1360,760h40v40h-40zM1400,760h40v40h-40zM1480,760h40v40h-40zM1520,760h40v40h-40zM1560,760h40v40h-40zM1600,760h40v40h-40zM1640,760h40v40h-40zM1680,760h40v40h-40zM1720,760h40v40h-40zM1760,760h40v40h-40zM1800,760h40v40h-40zM1840,760h40v40h-40zM1880,760h40v40h-40zM80,800h40v40h-40zM160,800h40v40h-40zM200,800h40v40h-40zM240,800h40v40h-40zM280,800h40v40h-40zM320,800h40v40h-40zM360,800h40v40h-40zM400,800h40v40h-40zM440,800h40v40h-40zM480,800h40v40h-40zM520,800h40v40h-40zM560,800h40v40h-40zM600,800h40v40h-40zM640,800h40v40h-40zM680,800h40v40h-40zM720,800h40v40h-40zM760,800h40v40h-40zM800,800h40v40h-40zM840,800h40v40h-40zM880,800h40v40h-40zM920,800h40v40h-40zM960,800h40v40h-40zM1000,800h40v40h-40zM1040,800h40v40h-40zM1080,800h40v40h-40zM1120,800h40v40h-40zM1160,800h40v40h-40zM1200,800h40v40h-40zM1240,800h40v40h-40zM1360,800h40v40h-40zM1400,800h40v40h-40zM1440,800h40v40h-40zM1480,800h40v40h-40zM1520,800h40v40h-40zM1560,800h40v40h-40zM1600,800h40v40h-40zM1640,800h40v40h-40zM1680,800h40v40h-40zM1720,800h40v40h-40zM1760,800h40v40h-40zM1800,800h40v40h-40zM1840,800h40v40h-40zM120,840h40v40h-40zM280,840h40v40h-40zM320,840h40v40h-40zM360,840h40v40h-40zM400,840h40v40h-40zM440,840h40v40h-40zM480,840h40v40h-40zM520,840h40v40h-40zM560,840h40v40h-40zM600,840h40v40h-40zM640,840h40v40h-40zM680,840h40v40h-40zM720,840h40v40h-40zM760,840h40v40h-40zM800,840h40v40h-40zM840,840h40v40h-40zM880,840h40v40h-40zM920,840h40v40h-40zM960,840h40v40h-40zM1000,840h40v40h-40zM1040,840h40v40h-40zM1080,840h40v40h-40zM1120,840h40v40h-40zM1160,840h40v40h-40zM1200,840h40v40h-40zM1360,840h40v40h-40zM1400,840h40v40h-40zM1440,840h40v40h-40zM1480,840h40v40h-40zM1520,840h40v40h-40zM1560,840h40v40h-40zM1600,840h40v40h-40zM1640,840h40v40h-40zM1680,840h40v40h-40zM1720,840h40v40h-40zM1760,840h40v40h-40zM1800,840h40v40h-40zM320,880h40v40h-40zM360,880h40v40h-40zM400,880h40v40h-40zM440,880h40v40h-40zM480,880h40v40h-40zM520,880h40v40h-40zM560,880h40v40h-40zM600,880h40v40h-40zM640,880h40v40h-40zM680,880h40v40h-40zM720,880h40v40h-40zM760,880h40v40h-40zM800,880h40v40h-40zM840,880h40v40h-40zM880,880h40v40h-40zM920,880h40v40h-40zM960,880h40v40h-40zM1000,880h40v40h-40zM1040,880h40v40h-40zM1080,880h40v40h-40zM360,920h40v40h-40zM400,920h40v40h-40zM440,920h40v40h-40zM480,920h40v40h-40zM520,920h40v40h-40zM560,920h40v40h-40zM600,920h40v40h-40zM640,920h40v40h-40zM680,920h40v40h-40zM720,920h40v40h-40zM760,920h40v40h-40zM800,920h40v40h-40zM840,920h40v40h-40zM880,920h40v40h-40zM920,920h40v40h-40zM960,920h40v40h-40zM1000,920h40v40h-40zM1040,920h40v40h-40zM560,960h40v40h-40zM600,960h40v40h-40zM640,960h40v40h-40zM680,960h40v40h-40zM720,960h40v40h-40zM760,960h40v40h-40zM800,960h40v40h-40zM840,960h40v40h-40zM880,960h40v40h-40zM920,960h40v40h-40zM400,1000h40v40h-40zM480,1000h40v40h-40zM560,1000h40v40h-40zM600,1000h40v40h-40zM640,1000h40v40h-40zM680,1000h40v40h-40zM720,1000h40v40h-40zM760,1000h40v40h-40zM800,1000h40v40h-40zM840,1000h40v40h-40zM880,1000h40v40h-40zM960,1000h40v40h-40zM440,1040h40v40h-40zM920,1040h40v40h-40z" fill="url(#pf)"/>
<path d="M640,400h40v40h-40zM680,400h40v40h-40zM720,400h40v40h-40zM640,440h40v40h-40zM680,440h40v40h-40zM720,440h40v40h-40zM640,480h40v40h-40zM720,480h40v40h-40zM640,520h40v40h-40zM680,520h40v40h-40zM720,520h40v40h-40zM640,560h40v40h-40zM680,560h40v40h-40zM720,560h40v40h-40z" fill="url(#pr)"/>
<path d="M1280,480h40v40h-40zM1320,480h40v40h-40zM1360,480h40v40h-40zM1280,520h40v40h-40zM1320,520h40v40h-40zM1360,520h40v40h-40zM1280,560h40v40h-40zM1360,560h40v40h-40zM1280,600h40v40h-40zM1320,600h40v40h-40zM1360,600h40v40h-40zM1280,640h40v40h-40zM1320,640h40v40h-40zM1360,640h40v40h-40z" fill="url(#pu)"/>
<path d="M1480,40h40v40h-40zM760,200h40v40h-40zM1800,200h40v40h-40zM680,240h40v40h-40zM560,280h40v40h-40zM680,280h40v40h-40zM1840,280h40v40h-40zM680,320h40v40h-40zM1160,320h40v40h-40zM1920,320h40v40h-40zM680,480h40v40h-40zM1000,520h40v40h-40zM1320,560h40v40h-40zM80,720h40v40h-40zM840,720h40v40h-40zM1320,720h40v40h-40zM160,760h40v40h-40zM1320,760h40v40h-40zM1440,760h40v40h-40zM1320,800h40v40h-40zM200,840h40v40h-40zM1240,840h40v40h-40zM520,1000h40v40h-40z" fill="#e3e2e8"/>
<path d="M1120,0 1120,40 1080,40ZM1120,0 1160,0 1160,40 1120,40ZM1160,0 1200,0 1200,40 1160,40ZM1200,0 1240,0 1240,40 1200,40ZM1240,0 1280,0 1280,40 1240,40ZM1280,0 1320,0 1320,40 1280,40ZM1320,0 1360,0 1360,40 1320,40ZM1360,0 1400,0 1400,40 1360,40ZM1400,0 1440,0 1440,40 1400,40ZM1440,0 1480,0 1480,40 1440,40ZM1480,0 1520,0 1520,40 1480,40ZM1520,0 1560,0 1560,40 1520,40ZM1560,0 1600,40 1560,40ZM1080,40 1080,80 1040,80ZM1080,40 1120,40 1120,80 1080,80ZM1120,40 1160,40 1120,80ZM1520,40 1560,40 1560,80ZM1560,40 1600,40 1600,80 1560,80ZM1600,40 1640,80 1600,80ZM920,80 960,80 960,120 920,120ZM960,80 1000,80 1000,120 960,120ZM1000,80 1040,80 1040,120 1000,120ZM1040,80 1080,80 1080,120 1040,120ZM1080,80 1120,80 1080,120ZM1480,80 1520,80 1520,120 1480,120ZM1520,80 1560,80 1560,120 1520,120ZM1560,80 1600,80 1600,120 1560,120ZM1600,80 1640,80 1640,120 1600,120ZM1640,80 1680,80 1680,120 1640,120ZM1680,80 1720,80 1720,120 1680,120ZM880,120 920,120 920,160 880,160ZM920,120 960,120 960,160 920,160ZM1680,120 1720,120 1720,160 1680,160ZM1720,120 1760,120 1760,160 1720,160ZM160,160 200,160 200,200 160,200ZM200,160 240,160 240,200 200,200ZM240,160 280,160 280,200 240,200ZM280,160 320,160 320,200 280,200ZM320,160 360,160 360,200 320,200ZM360,160 400,160 400,200 360,200ZM400,160 440,160 440,200 400,200ZM440,160 480,160 480,200 440,200ZM480,160 520,160 520,200 480,200ZM520,160 560,160 560,200 520,200ZM560,160 600,160 600,200 560,200ZM600,160 640,160 640,200 600,200ZM640,160 680,160 680,200 640,200ZM680,160 720,160 720,200 680,200ZM720,160 760,160 760,200 720,200ZM760,160 800,160 800,200 760,200ZM800,160 840,160 840,200 800,200ZM840,160 880,160 880,200 840,200ZM880,160 920,160 920,200 880,200ZM1720,160 1760,160 1760,200 1720,200ZM1760,160 1800,160 1800,200 1760,200ZM1800,160 1840,160 1840,200 1800,200ZM1840,160 1880,160 1880,200 1840,200ZM120,200 160,200 160,240 120,240ZM160,200 200,200 200,240 160,240ZM640,200 680,200 680,240ZM680,200 720,200 720,240 680,240ZM720,200 760,200 760,240 720,240ZM1760,200 1800,200 1800,240 1760,240ZM1840,200 1880,200 1880,240 1840,240ZM1880,200 1920,240 1880,240ZM80,240 120,240 120,280 80,280ZM120,240 160,240 160,280 120,280ZM720,240 760,240 760,280 720,280ZM1840,240 1880,240 1880,280ZM1880,240 1920,240 1920,280 1880,280ZM1920,240 1960,280 1920,280ZM40,280 80,280 80,320 40,320ZM80,280 120,280 120,320 80,320ZM720,280 760,280 760,320 720,320ZM1880,280 1920,280 1920,320ZM1920,280 1960,280 1960,320 1920,320ZM1960,280 2000,280 2000,320 1960,320ZM0,320 40,320 40,360 0,360ZM40,320 80,320 80,360 40,360ZM720,320 760,320 760,360 720,360ZM1120,320 1120,360 1080,360ZM1120,320 1160,320 1160,360 1120,360ZM1960,320 2000,320 2000,360 1960,360ZM0,360 40,360 40,400 0,400ZM640,360 640,400 600,400ZM640,360 680,360 680,400 640,400ZM680,360 720,360 720,400 680,400ZM720,360 760,360 760,400 720,400ZM760,360 800,400 760,400ZM1920,360 1960,360 1960,400 1920,400ZM1960,360 2000,360 2000,400 1960,400ZM0,400 40,400 40,440 0,440ZM520,400 520,440 480,440ZM520,400 560,400 560,440 520,440ZM560,400 600,400 600,440 560,440ZM600,400 640,400 600,440ZM1960,400 2000,400 2000,440 1960,440ZM2000,400 2040,400 2040,440 2000,440ZM0,440 40,440 40,480 0,480ZM1320,440 1320,480 1280,480ZM1320,440 1360,440 1360,480 1320,480ZM1360,440 1400,440 1400,480 1360,480ZM1400,440 1440,480 1400,480ZM2000,440 2040,440 2040,480 2000,480ZM0,480 40,480 40,520 0,520ZM1400,480 1440,480 1440,520ZM1440,480 1480,480 1480,520 1440,520ZM1480,480 1520,480 1520,520 1480,520ZM1520,480 1560,520 1520,520ZM2000,480 2040,480 2040,520 2000,520ZM0,520 40,520 40,560 0,560ZM2000,520 2040,520 2040,560 2000,560ZM0,560 40,560 40,600 0,600ZM480,560 520,560 520,600ZM520,560 560,560 560,600 520,600ZM560,560 600,560 600,600 560,600ZM600,560 640,600 600,600ZM2000,560 2040,560 2040,600 2000,600ZM0,600 40,600 40,640 0,640ZM600,600 640,600 640,640ZM640,600 680,600 680,640 640,640ZM680,600 720,600 720,640 680,640ZM720,600 760,600 720,640ZM2000,600 2040,600 2040,640 2000,640ZM0,640 40,640 40,680 0,680ZM40,640 80,640 80,680 40,680ZM1440,640 1440,680 1400,680ZM1440,640 1480,640 1480,680 1440,680ZM1480,640 1520,640 1520,680 1480,680ZM1520,640 1560,640 1520,680ZM2000,640 2040,640 2040,680 2000,680ZM40,680 80,680 80,720 40,720ZM80,680 120,680 120,720 80,720ZM1240,680 1280,680 1280,720ZM1280,680 1320,680 1320,720 1280,720ZM1320,680 1360,680 1360,720 1320,720ZM1360,680 1400,680 1400,720 1360,720ZM1400,680 1440,680 1400,720ZM2000,680 2040,680 2040,720 2000,720ZM40,720 80,720 80,760 40,760ZM880,720 920,720 920,760 880,760ZM920,720 960,720 920,760ZM1280,720 1320,720 1320,760 1280,760ZM1960,720 2000,720 2000,760 1960,760ZM2000,720 2040,720 2040,760 2000,760ZM40,760 80,760 80,800 40,800ZM80,760 120,760 120,800 80,800ZM120,760 160,800 120,800ZM1280,760 1320,760 1320,800 1280,800ZM1920,760 1960,760 1960,800 1920,800ZM1960,760 2000,760 2000,800 1960,800ZM80,800 120,800 120,840ZM120,800 160,800 160,840 120,840ZM160,800 200,840 160,840ZM1280,800 1320,800 1320,840 1280,840ZM1880,800 1920,800 1920,840 1880,840ZM1920,800 1960,800 1960,840 1920,840ZM120,840 160,840 160,880ZM160,840 200,840 200,880 160,880ZM240,840 280,840 280,880 240,880ZM1280,840 1320,840 1320,880 1280,880ZM1320,840 1360,840 1360,880 1320,880ZM1360,840 1400,880 1360,880ZM1840,840 1880,840 1880,880 1840,880ZM1880,840 1920,840 1920,880 1880,880ZM160,880 200,880 200,920 160,920ZM200,880 240,880 240,920 200,920ZM240,880 280,880 280,920 240,920ZM280,880 320,880 320,920 280,920ZM1120,880 1160,880 1160,920 1120,920ZM1160,880 1200,880 1200,920 1160,920ZM1200,880 1240,880 1240,920 1200,920ZM1240,880 1280,880 1280,920 1240,920ZM1280,880 1320,880 1320,920 1280,920ZM1320,880 1360,880 1360,920 1320,920ZM1360,880 1400,880 1400,920 1360,920ZM1400,880 1440,880 1440,920 1400,920ZM1440,880 1480,880 1480,920 1440,920ZM1480,880 1520,880 1520,920 1480,920ZM1520,880 1560,880 1560,920 1520,920ZM1560,880 1600,880 1600,920 1560,920ZM1600,880 1640,880 1640,920 1600,920ZM1640,880 1680,880 1680,920 1640,920ZM1680,880 1720,880 1720,920 1680,920ZM1720,880 1760,880 1760,920 1720,920ZM1760,880 1800,880 1800,920 1760,920ZM1800,880 1840,880 1840,920 1800,920ZM1840,880 1880,880 1880,920 1840,920ZM280,920 320,920 320,960 280,960ZM320,920 360,920 360,960 320,960ZM1080,920 1120,920 1120,960 1080,960ZM1120,920 1160,920 1160,960 1120,960ZM320,960 360,960 360,1000 320,1000ZM360,960 400,960 400,1000 360,1000ZM400,960 440,960 440,1000 400,1000ZM440,960 480,960 480,1000 440,1000ZM480,960 520,960 520,1000 480,1000ZM520,960 560,960 560,1000 520,1000ZM960,960 960,1000 920,1000ZM960,960 1000,960 1000,1000 960,1000ZM1000,960 1040,960 1040,1000 1000,1000ZM1040,960 1080,960 1080,1000 1040,1000ZM1080,960 1120,960 1120,1000 1080,1000ZM400,1000 440,1000 440,1040ZM440,1000 480,1000 480,1040 440,1040ZM480,1000 520,1040 480,1040ZM920,1000 920,1040 880,1040ZM920,1000 960,1000 960,1040 920,1040ZM960,1000 1000,1000 960,1040ZM440,1040 480,1040 480,1080ZM480,1040 520,1040 520,1080 480,1080ZM520,1040 560,1040 560,1080 520,1080ZM560,1040 600,1040 600,1080 560,1080ZM600,1040 640,1040 640,1080 600,1080ZM640,1040 680,1040 680,1080 640,1080ZM680,1040 720,1040 720,1080 680,1080ZM720,1040 760,1040 760,1080 720,1080ZM760,1040 800,1040 800,1080 760,1080ZM800,1040 840,1040 840,1080 800,1080ZM840,1040 880,1040 880,1080 840,1080ZM880,1040 920,1040 920,1080 880,1080ZM920,1040 960,1040 920,1080Z" fill="#4d4c51"/>
<g clip-path="url(#wc)">
<path d="M1120,0L1140,0M1140,0L1160,0M1160,0L1180,0M1180,0L1200,0M1200,0L1220,0M1220,0L1240,0M1240,0L1260,0M1260,0L1280,0M1280,0L1300,0M1300,0L1320,0M1320,0L1340,0M1340,0L1360,0M1360,0L1380,0M1380,0L1400,0M1400,0L1420,0M1420,0L1440,0M1440,0L1460,0M1460,0L1480,0M1480,0L1500,0M1500,0L1520,0M1520,0L1540,0M1540,0L1560,0M920,80L940,80M940,80L960,80M960,80L980,80M980,80L1000,80M1000,80L1020,80M1020,80L1040,80M1480,80L1500,80M1500,80L1520,80M1520,80L1540,80M1540,80L1560,80M1640,80L1660,80M1660,80L1680,80M1680,80L1700,80M1700,80L1720,80M880,120L900,120M900,120L920,120M1720,120L1740,120M1740,120L1760,120M160,160L180,160M180,160L200,160M200,160L220,160M220,160L240,160M240,160L260,160M260,160L280,160M280,160L300,160M300,160L320,160M320,160L340,160M340,160L360,160M360,160L380,160M380,160L400,160M400,160L420,160M420,160L440,160M440,160L460,160M460,160L480,160M480,160L500,160M500,160L520,160M520,160L540,160M540,160L560,160M560,160L580,160M580,160L600,160M600,160L620,160M620,160L640,160M640,160L660,160M660,160L680,160M680,160L700,160M700,160L720,160M720,160L740,160M740,160L760,160M760,160L780,160M780,160L800,160M800,160L820,160M820,160L840,160M840,160L860,160M860,160L880,160M1760,160L1780,160M1780,160L1800,160M1800,160L1820,160M1820,160L1840,160M1840,160L1860,160M1860,160L1880,160M120,200L140,200M140,200L160,200M80,240L100,240M100,240L120,240M40,280L60,280M60,280L80,280M1960,280L1980,280M1980,280L2000,280M0,320L20,320M20,320L40,320M1120,320L1140,320M1140,320L1160,320M640,360L660,360M660,360L680,360M680,360L700,360M700,360L720,360M1920,360L1940,360M1940,360L1960,360M520,400L540,400M540,400L560,400M560,400L580,400M580,400L600,400M2000,400L2020,400M2020,400L2040,400M1320,440L1340,440M1340,440L1360,440M1360,440L1380,440M1380,440L1400,440M1440,480L1460,480M1460,480L1480,480M1480,480L1500,480M1500,480L1520,480M480,560L500,560M500,560L520,560M520,560L540,560M540,560L560,560M560,560L580,560M580,560L600,560M640,600L660,600M660,600L680,600M680,600L700,600M700,600L720,600M720,600L740,600M740,600L760,600M40,640L60,640M60,640L80,640M1440,640L1460,640M1460,640L1480,640M1480,640L1500,640M1500,640L1520,640M1520,640L1540,640M1540,640L1560,640M80,680L100,680M100,680L120,680M1240,680L1260,680M1260,680L1280,680M1280,680L1300,680M1300,680L1320,680M1320,680L1340,680M1340,680L1360,680M1360,680L1380,680M1380,680L1400,680M880,720L900,720M900,720L920,720M920,720L940,720M940,720L960,720M1960,720L1980,720M1980,720L2000,720M80,760L100,760M100,760L120,760M1920,760L1940,760M1940,760L1960,760M1880,800L1900,800M1900,800L1920,800M240,840L260,840M260,840L280,840M1320,840L1340,840M1340,840L1360,840M1840,840L1860,840M1860,840L1880,840M200,880L220,880M220,880L240,880M280,880L300,880M300,880L320,880M1120,880L1140,880M1140,880L1160,880M1160,880L1180,880M1180,880L1200,880M1200,880L1220,880M1220,880L1240,880M1240,880L1260,880M1260,880L1280,880M1400,880L1420,880M1420,880L1440,880M1440,880L1460,880M1460,880L1480,880M1480,880L1500,880M1500,880L1520,880M1520,880L1540,880M1540,880L1560,880M1560,880L1580,880M1580,880L1600,880M1600,880L1620,880M1620,880L1640,880M1640,880L1660,880M1660,880L1680,880M1680,880L1700,880M1700,880L1720,880M1720,880L1740,880M1740,880L1760,880M1760,880L1780,880M1780,880L1800,880M1800,880L1820,880M1820,880L1840,880M320,920L340,920M340,920L360,920M1080,920L1100,920M1100,920L1120,920M360,960L380,960M380,960L400,960M400,960L420,960M420,960L440,960M440,960L460,960M460,960L480,960M480,960L500,960M500,960L520,960M520,960L540,960M540,960L560,960M960,960L980,960M980,960L1000,960M1000,960L1020,960M1020,960L1040,960M1040,960L1060,960M1060,960L1080,960M520,1040L540,1040M540,1040L560,1040M560,1040L580,1040M580,1040L600,1040M600,1040L620,1040M620,1040L640,1040M640,1040L660,1040M660,1040L680,1040M680,1040L700,1040M700,1040L720,1040M720,1040L740,1040M740,1040L760,1040M760,1040L780,1040M780,1040L800,1040M800,1040L820,1040M820,1040L840,1040M840,1040L860,1040M860,1040L880,1040M920,80L920,100M1480,80L1480,100M1480,100L1480,120M880,120L880,140M1680,120L1680,140M1680,140L1680,160M160,160L160,180M1720,160L1720,180M1720,180L1720,200M120,200L120,220M1760,200L1760,220M1760,220L1760,240M1840,200L1840,220M1840,220L1840,240M80,240L80,260M720,240L720,260M720,260L720,280M40,280L40,300M720,280L720,300M720,300L720,320M0,320L0,340M0,340L0,360M720,320L720,340M1960,320L1960,340M0,360L0,380M0,380L0,400M1920,360L1920,380M1920,380L1920,400M0,400L0,420M0,420L0,440M1960,400L1960,420M1960,420L1960,440M0,440L0,460M0,460L0,480M2000,440L2000,460M2000,460L2000,480M0,480L0,500M0,500L0,520M2000,480L2000,500M2000,500L2000,520M0,520L0,540M0,540L0,560M2000,520L2000,540M2000,540L2000,560M0,560L0,580M0,580L0,600M2000,560L2000,580M2000,580L2000,600M0,600L0,620M0,620L0,640M2000,600L2000,620M2000,620L2000,640M0,640L0,660M0,660L0,680M2000,640L2000,660M2000,660L2000,680M40,680L40,700M40,700L40,720M2000,680L2000,700M40,720L40,740M40,740L40,760M880,720L880,740M880,740L880,760M1280,720L1280,740M1280,740L1280,760M1960,720L1960,740M40,760L40,780M40,780L40,800M1280,760L1280,780M1280,780L1280,800M1920,760L1920,780M1280,800L1280,820M1280,820L1280,840M1880,800L1880,820M240,840L240,860M1280,840L1280,860M1840,840L1840,860M160,880L160,900M160,900L160,920M1120,880L1120,900M280,920L280,940M280,940L280,960M1080,920L1080,940M320,960L320,980M320,980L320,1000M1160,40L1180,40M1180,40L1200,40M1200,40L1220,40M1220,40L1240,40M1240,40L1260,40M1260,40L1280,40M1280,40L1300,40M1300,40L1320,40M1320,40L1340,40M1340,40L1360,40M1360,40L1380,40M1380,40L1400,40M1400,40L1420,40M1420,40L1440,40M1440,40L1460,40M1460,40L1480,40M1480,40L1500,40M1500,40L1520,40M960,120L980,120M980,120L1000,120M1000,120L1020,120M1020,120L1040,120M1040,120L1060,120M1060,120L1080,120M1480,120L1500,120M1500,120L1520,120M1520,120L1540,120M1540,120L1560,120M1560,120L1580,120M1580,120L1600,120M1600,120L1620,120M1620,120L1640,120M1640,120L1660,120M1660,120L1680,120M920,160L940,160M940,160L960,160M1680,160L1700,160M1700,160L1720,160M200,200L220,200M220,200L240,200M240,200L260,200M260,200L280,200M280,200L300,200M300,200L320,200M320,200L340,200M340,200L360,200M360,200L380,200M380,200L400,200M400,200L420,200M420,200L440,200M440,200L460,200M460,200L480,200M480,200L500,200M500,200L520,200M520,200L540,200M540,200L560,200M560,200L580,200M580,200L600,200M600,200L620,200M620,200L640,200M760,200L780,200M780,200L800,200M800,200L820,200M820,200L840,200M840,200L860,200M860,200L880,200M880,200L900,200M900,200L920,200M1720,200L1740,200M1740,200L1760,200M1800,200L1820,200M1820,200L1840,200M160,240L180,240M180,240L200,240M680,240L700,240M700,240L720,240M1760,240L1780,240M1780,240L1800,240M120,280L140,280M140,280L160,280M80,320L100,320M100,320L120,320M1920,320L1940,320M1940,320L1960,320M40,360L60,360M60,360L80,360M1080,360L1100,360M1100,360L1120,360M1120,360L1140,360M1140,360L1160,360M640,400L660,400M660,400L680,400M680,400L700,400M700,400L720,400M720,400L740,400M740,400L760,400M760,400L780,400M780,400L800,400M1920,400L1940,400M1940,400L1960,400M480,440L500,440M500,440L520,440M520,440L540,440M540,440L560,440M560,440L580,440M580,440L600,440M1960,440L1980,440M1980,440L2000,440M1280,480L1300,480M1300,480L1320,480M1320,480L1340,480M1340,480L1360,480M1360,480L1380,480M1380,480L1400,480M1440,520L1460,520M1460,520L1480,520M1480,520L1500,520M1500,520L1520,520M1520,520L1540,520M1540,520L1560,520M520,600L540,600M540,600L560,600M560,600L580,600M580,600L600,600M640,640L660,640M660,640L680,640M680,640L700,640M700,640L720,640M0,680L20,680M20,680L40,680M1440,680L1460,680M1460,680L1480,680M1480,680L1500,680M1500,680L1520,680M80,720L100,720M100,720L120,720M1320,720L1340,720M1340,720L1360,720M1360,720L1380,720M1380,720L1400,720M880,760L900,760M900,760L920,760M2000,760L2020,760M2020,760L2040,760M40,800L60,800M60,800L80,800M1960,800L1980,800M1980,800L2000,800M1920,840L1940,840M1940,840L1960,840M1880,880L1900,880M1900,880L1920,880M160,920L180,920M180,920L200,920M200,920L220,920M220,920L240,920M240,920L260,920M260,920L280,920M1160,920L1180,920M1180,920L1200,920M1200,920L1220,920M1220,920L1240,920M1240,920L1260,920M1260,920L1280,920M1280,920L1300,920M1300,920L1320,920M1320,920L1340,920M1340,920L1360,920M1360,920L1380,920M1380,920L1400,920M1400,920L1420,920M1420,920L1440,920M1440,920L1460,920M1460,920L1480,920M1480,920L1500,920M1500,920L1520,920M1520,920L1540,920M1540,920L1560,920M1560,920L1580,920M1580,920L1600,920M1600,920L1620,920M1620,920L1640,920M1640,920L1660,920M1660,920L1680,920M1680,920L1700,920M1700,920L1720,920M1720,920L1740,920M1740,920L1760,920M1760,920L1780,920M1780,920L1800,920M1800,920L1820,920M1820,920L1840,920M1840,920L1860,920M1860,920L1880,920M280,960L300,960M300,960L320,960M1120,960L1140,960M1140,960L1160,960M320,1000L340,1000M340,1000L360,1000M360,1000L380,1000M380,1000L400,1000M480,1000L500,1000M500,1000L520,1000M520,1000L540,1000M540,1000L560,1000M1000,1000L1020,1000M1020,1000L1040,1000M1040,1000L1060,1000M1060,1000L1080,1000M1080,1000L1100,1000M1100,1000L1120,1000M480,1080L500,1080M500,1080L520,1080M520,1080L540,1080M540,1080L560,1080M560,1080L580,1080M580,1080L600,1080M600,1080L620,1080M620,1080L640,1080M640,1080L660,1080M660,1080L680,1080M680,1080L700,1080M700,1080L720,1080M720,1080L740,1080M740,1080L760,1080M760,1080L780,1080M780,1080L800,1080M800,1080L820,1080M820,1080L840,1080M840,1080L860,1080M860,1080L880,1080M880,1080L900,1080M900,1080L920,1080M1720,80L1720,100M1720,100L1720,120M960,120L960,140M960,140L960,160M1760,120L1760,140M1760,140L1760,160M920,160L920,180M920,180L920,200M1880,160L1880,180M1880,180L1880,200M200,200L200,220M200,220L200,240M760,200L760,220M760,220L760,240M1800,200L1800,220M1800,220L1800,240M160,240L160,260M160,260L160,280M760,240L760,260M760,260L760,280M120,280L120,300M120,300L120,320M760,280L760,300M760,300L760,320M2000,280L2000,300M2000,300L2000,320M80,320L80,340M80,340L80,360M760,320L760,340M760,340L760,360M1160,320L1160,340M1160,340L1160,360M2000,320L2000,340M2000,340L2000,360M40,360L40,380M40,380L40,400M2000,360L2000,380M2000,380L2000,400M40,400L40,420M40,420L40,440M2040,400L2040,420M2040,420L2040,440M40,440L40,460M40,460L40,480M2040,440L2040,460M2040,460L2040,480M40,480L40,500M40,500L40,520M2040,480L2040,500M2040,500L2040,520M40,520L40,540M40,540L40,560M2040,520L2040,540M2040,540L2040,560M40,560L40,580M40,580L40,600M2040,560L2040,580M2040,580L2040,600M40,600L40,620M40,620L40,640M2040,600L2040,620M2040,620L2040,640M80,640L80,660M80,660L80,680M2040,640L2040,660M2040,660L2040,680M120,680L120,700M120,700L120,720M2040,680L2040,700M2040,700L2040,720M80,720L80,740M80,740L80,760M1320,720L1320,740M1320,740L1320,760M2040,720L2040,740M2040,740L2040,760M1320,760L1320,780M1320,780L1320,800M2000,760L2000,780M2000,780L2000,800M1320,800L1320,820M1320,820L1320,840M1960,800L1960,820M1960,820L1960,840M200,840L200,860M200,860L200,880M280,840L280,860M280,860L280,880M1920,840L1920,860M1920,860L1920,880M320,880L320,900M320,900L320,920M1880,880L1880,900M1880,900L1880,920M360,920L360,940M360,940L360,960M1160,920L1160,940M1160,940L1160,960M560,960L560,980M560,980L560,1000M1120,960L1120,980M1120,980L1120,1000" stroke="#57565c" stroke-width="13.0" fill="none"/>
<path d="M1120,0L1100,20M1100,20L1080,40M1080,40L1060,60M1060,60L1040,80M1120,320L1100,340M1100,340L1080,360M640,360L620,380M620,380L600,400M520,400L500,420M500,420L480,440M1320,440L1300,460M1300,460L1280,480M1440,640L1420,660M1420,660L1400,680M960,960L940,980M940,980L920,1000M920,1000L900,1020M900,1020L880,1040M1560,0L1580,20M1580,20L1600,40M1600,40L1620,60M1620,60L1640,80M1880,200L1900,220M1900,220L1920,240M1920,240L1940,260M1940,260L1960,280M760,360L780,380M780,380L800,400M1400,440L1420,460M1420,460L1440,480M1520,480L1540,500M1540,500L1560,520M600,560L620,580M620,580L640,600M120,760L140,780M140,780L160,800M160,800L180,820M180,820L200,840M1360,840L1380,860M1380,860L1400,880M480,1000L500,1020M500,1020L520,1040M1520,40L1540,60M1540,60L1560,80M640,200L660,220M660,220L680,240M1840,240L1860,260M1860,260L1880,280M1880,280L1900,300M1900,300L1920,320M1400,480L1420,500M1420,500L1440,520M480,560L500,580M500,580L520,600M600,600L620,620M620,620L640,640M1240,680L1260,700M1260,700L1280,720M80,800L100,820M100,820L120,840M120,840L140,860M140,860L160,880M400,1000L420,1020M420,1020L440,1040M440,1040L460,1060M460,1060L480,1080M1160,40L1140,60M1140,60L1120,80M1120,80L1100,100M1100,100L1080,120M640,400L620,420M620,420L600,440M760,600L740,620M740,620L720,640M1560,640L1540,660M1540,660L1520,680M1440,680L1420,700M1420,700L1400,720M960,720L940,740M940,740L920,760M1000,1000L980,1020M980,1020L960,1040M960,1040L940,1060M940,1060L920,1080" stroke="#57565c" stroke-width="11.0" fill="none"/>
<path d="M1113.5,0a6.5,6.5 0 1 0 13.0,0a6.5,6.5 0 1 0 -13.0,0zM1153.5,40a6.5,6.5 0 1 0 13.0,0a6.5,6.5 0 1 0 -13.0,0zM1513.5,40a6.5,6.5 0 1 0 13.0,0a6.5,6.5 0 1 0 -13.0,0zM1553.5,0a6.5,6.5 0 1 0 13.0,0a6.5,6.5 0 1 0 -13.0,0zM1033.5,80a6.5,6.5 0 1 0 13.0,0a6.5,6.5 0 1 0 -13.0,0zM1553.5,80a6.5,6.5 0 1 0 13.0,0a6.5,6.5 0 1 0 -13.0,0zM1633.5,80a6.5,6.5 0 1 0 13.0,0a6.5,6.5 0 1 0 -13.0,0zM913.5,80a6.5,6.5 0 1 0 13.0,0a6.5,6.5 0 1 0 -13.0,0zM953.5,120a6.5,6.5 0 1 0 13.0,0a6.5,6.5 0 1 0 -13.0,0zM1073.5,120a6.5,6.5 0 1 0 13.0,0a6.5,6.5 0 1 0 -13.0,0zM1473.5,80a6.5,6.5 0 1 0 13.0,0a6.5,6.5 0 1 0 -13.0,0zM1473.5,120a6.5,6.5 0 1 0 13.0,0a6.5,6.5 0 1 0 -13.0,0zM1673.5,120a6.5,6.5 0 1 0 13.0,0a6.5,6.5 0 1 0 -13.0,0zM1713.5,80a6.5,6.5 0 1 0 13.0,0a6.5,6.5 0 1 0 -13.0,0zM1713.5,120a6.5,6.5 0 1 0 13.0,0a6.5,6.5 0 1 0 -13.0,0zM873.5,120a6.5,6.5 0 1 0 13.0,0a6.5,6.5 0 1 0 -13.0,0zM913.5,160a6.5,6.5 0 1 0 13.0,0a6.5,6.5 0 1 0 -13.0,0zM953.5,160a6.5,6.5 0 1 0 13.0,0a6.5,6.5 0 1 0 -13.0,0zM1673.5,160a6.5,6.5 0 1 0 13.0,0a6.5,6.5 0 1 0 -13.0,0zM1713.5,160a6.5,6.5 0 1 0 13.0,0a6.5,6.5 0 1 0 -13.0,0zM1753.5,120a6.5,6.5 0 1 0 13.0,0a6.5,6.5 0 1 0 -13.0,0zM1753.5,160a6.5,6.5 0 1 0 13.0,0a6.5,6.5 0 1 0 -13.0,0zM153.5,160a6.5,6.5 0 1 0 13.0,0a6.5,6.5 0 1 0 -13.0,0zM193.5,200a6.5,6.5 0 1 0 13.0,0a6.5,6.5 0 1 0 -13.0,0zM633.5,200a6.5,6.5 0 1 0 13.0,0a6.5,6.5 0 1 0 -13.0,0zM753.5,200a6.5,6.5 0 1 0 13.0,0a6.5,6.5 0 1 0 -13.0,0zM913.5,200a6.5,6.5 0 1 0 13.0,0a6.5,6.5 0 1 0 -13.0,0zM1713.5,200a6.5,6.5 0 1 0 13.0,0a6.5,6.5 0 1 0 -13.0,0zM1753.5,200a6.5,6.5 0 1 0 13.0,0a6.5,6.5 0 1 0 -13.0,0zM1793.5,200a6.5,6.5 0 1 0 13.0,0a6.5,6.5 0 1 0 -13.0,0zM1833.5,200a6.5,6.5 0 1 0 13.0,0a6.5,6.5 0 1 0 -13.0,0zM1873.5,160a6.5,6.5 0 1 0 13.0,0a6.5,6.5 0 1 0 -13.0,0zM1873.5,200a6.5,6.5 0 1 0 13.0,0a6.5,6.5 0 1 0 -13.0,0zM113.5,200a6.5,6.5 0 1 0 13.0,0a6.5,6.5 0 1 0 -13.0,0zM153.5,240a6.5,6.5 0 1 0 13.0,0a6.5,6.5 0 1 0 -13.0,0zM193.5,240a6.5,6.5 0 1 0 13.0,0a6.5,6.5 0 1 0 -13.0,0zM673.5,240a6.5,6.5 0 1 0 13.0,0a6.5,6.5 0 1 0 -13.0,0zM713.5,240a6.5,6.5 0 1 0 13.0,0a6.5,6.5 0 1 0 -13.0,0zM1753.5,240a6.5,6.5 0 1 0 13.0,0a6.5,6.5 0 1 0 -13.0,0zM1793.5,240a6.5,6.5 0 1 0 13.0,0a6.5,6.5 0 1 0 -13.0,0zM1833.5,240a6.5,6.5 0 1 0 13.0,0a6.5,6.5 0 1 0 -13.0,0zM73.5,240a6.5,6.5 0 1 0 13.0,0a6.5,6.5 0 1 0 -13.0,0zM113.5,280a6.5,6.5 0 1 0 13.0,0a6.5,6.5 0 1 0 -13.0,0zM153.5,280a6.5,6.5 0 1 0 13.0,0a6.5,6.5 0 1 0 -13.0,0zM1953.5,280a6.5,6.5 0 1 0 13.0,0a6.5,6.5 0 1 0 -13.0,0zM33.5,280a6.5,6.5 0 1 0 13.0,0a6.5,6.5 0 1 0 -13.0,0zM73.5,320a6.5,6.5 0 1 0 13.0,0a6.5,6.5 0 1 0 -13.0,0zM113.5,320a6.5,6.5 0 1 0 13.0,0a6.5,6.5 0 1 0 -13.0,0zM1913.5,320a6.5,6.5 0 1 0 13.0,0a6.5,6.5 0 1 0 -13.0,0zM1953.5,320a6.5,6.5 0 1 0 13.0,0a6.5,6.5 0 1 0 -13.0,0zM1993.5,280a6.5,6.5 0 1 0 13.0,0a6.5,6.5 0 1 0 -13.0,0zM-6.5,320a6.5,6.5 0 1 0 13.0,0a6.5,6.5 0 1 0 -13.0,0zM33.5,360a6.5,6.5 0 1 0 13.0,0a6.5,6.5 0 1 0 -13.0,0zM73.5,360a6.5,6.5 0 1 0 13.0,0a6.5,6.5 0 1 0 -13.0,0zM753.5,360a6.5,6.5 0 1 0 13.0,0a6.5,6.5 0 1 0 -13.0,0zM1073.5,360a6.5,6.5 0 1 0 13.0,0a6.5,6.5 0 1 0 -13.0,0zM1113.5,320a6.5,6.5 0 1 0 13.0,0a6.5,6.5 0 1 0 -13.0,0zM1153.5,320a6.5,6.5 0 1 0 13.0,0a6.5,6.5 0 1 0 -13.0,0zM1153.5,360a6.5,6.5 0 1 0 13.0,0a6.5,6.5 0 1 0 -13.0,0zM633.5,360a6.5,6.5 0 1 0 13.0,0a6.5,6.5 0 1 0 -13.0,0zM593.5,400a6.5,6.5 0 1 0 13.0,0a6.5,6.5 0 1 0 -13.0,0zM633.5,400a6.5,6.5 0 1 0 13.0,0a6.5,6.5 0 1 0 -13.0,0zM793.5,400a6.5,6.5 0 1 0 13.0,0a6.5,6.5 0 1 0 -13.0,0zM1913.5,360a6.5,6.5 0 1 0 13.0,0a6.5,6.5 0 1 0 -13.0,0zM1913.5,400a6.5,6.5 0 1 0 13.0,0a6.5,6.5 0 1 0 -13.0,0zM1953.5,400a6.5,6.5 0 1 0 13.0,0a6.5,6.5 0 1 0 -13.0,0zM1993.5,400a6.5,6.5 0 1 0 13.0,0a6.5,6.5 0 1 0 -13.0,0zM473.5,440a6.5,6.5 0 1 0 13.0,0a6.5,6.5 0 1 0 -13.0,0zM513.5,400a6.5,6.5 0 1 0 13.0,0a6.5,6.5 0 1 0 -13.0,0zM593.5,440a6.5,6.5 0 1 0 13.0,0a6.5,6.5 0 1 0 -13.0,0zM1953.5,440a6.5,6.5 0 1 0 13.0,0a6.5,6.5 0 1 0 -13.0,0zM1993.5,440a6.5,6.5 0 1 0 13.0,0a6.5,6.5 0 1 0 -13.0,0zM2033.5,400a6.5,6.5 0 1 0 13.0,0a6.5,6.5 0 1 0 -13.0,0zM1273.5,480a6.5,6.5 0 1 0 13.0,0a6.5,6.5 0 1 0 -13.0,0zM1313.5,440a6.5,6.5 0 1 0 13.0,0a6.5,6.5 0 1 0 -13.0,0zM1393.5,440a6.5,6.5 0 1 0 13.0,0a6.5,6.5 0 1 0 -13.0,0zM1393.5,480a6.5,6.5 0 1 0 13.0,0a6.5,6.5 0 1 0 -13.0,0zM1433.5,480a6.5,6.5 0 1 0 13.0,0a6.5,6.5 0 1 0 -13.0,0zM1433.5,520a6.5,6.5 0 1 0 13.0,0a6.5,6.5 0 1 0 -13.0,0zM1513.5,480a6.5,6.5 0 1 0 13.0,0a6.5,6.5 0 1 0 -13.0,0zM1553.5,520a6.5,6.5 0 1 0 13.0,0a6.5,6.5 0 1 0 -13.0,0zM473.5,560a6.5,6.5 0 1 0 13.0,0a6.5,6.5 0 1 0 -13.0,0zM513.5,600a6.5,6.5 0 1 0 13.0,0a6.5,6.5 0 1 0 -13.0,0zM593.5,560a6.5,6.5 0 1 0 13.0,0a6.5,6.5 0 1 0 -13.0,0zM593.5,600a6.5,6.5 0 1 0 13.0,0a6.5,6.5 0 1 0 -13.0,0zM633.5,600a6.5,6.5 0 1 0 13.0,0a6.5,6.5 0 1 0 -13.0,0zM33.5,640a6.5,6.5 0 1 0 13.0,0a6.5,6.5 0 1 0 -13.0,0zM633.5,640a6.5,6.5 0 1 0 13.0,0a6.5,6.5 0 1 0 -13.0,0zM713.5,640a6.5,6.5 0 1 0 13.0,0a6.5,6.5 0 1 0 -13.0,0zM753.5,600a6.5,6.5 0 1 0 13.0,0a6.5,6.5 0 1 0 -13.0,0zM-6.5,680a6.5,6.5 0 1 0 13.0,0a6.5,6.5 0 1 0 -13.0,0zM33.5,680a6.5,6.5 0 1 0 13.0,0a6.5,6.5 0 1 0 -13.0,0zM73.5,640a6.5,6.5 0 1 0 13.0,0a6.5,6.5 0 1 0 -13.0,0zM73.5,680a6.5,6.5 0 1 0 13.0,0a6.5,6.5 0 1 0 -13.0,0zM1433.5,640a6.5,6.5 0 1 0 13.0,0a6.5,6.5 0 1 0 -13.0,0zM1393.5,680a6.5,6.5 0 1 0 13.0,0a6.5,6.5 0 1 0 -13.0,0zM1433.5,680a6.5,6.5 0 1 0 13.0,0a6.5,6.5 0 1 0 -13.0,0zM1513.5,680a6.5,6.5 0 1 0 13.0,0a6.5,6.5 0 1 0 -13.0,0zM1553.5,640a6.5,6.5 0 1 0 13.0,0a6.5,6.5 0 1 0 -13.0,0zM113.5,680a6.5,6.5 0 1 0 13.0,0a6.5,6.5 0 1 0 -13.0,0zM73.5,720a6.5,6.5 0 1 0 13.0,0a6.5,6.5 0 1 0 -13.0,0zM113.5,720a6.5,6.5 0 1 0 13.0,0a6.5,6.5 0 1 0 -13.0,0zM1233.5,680a6.5,6.5 0 1 0 13.0,0a6.5,6.5 0 1 0 -13.0,0zM1273.5,720a6.5,6.5 0 1 0 13.0,0a6.5,6.5 0 1 0 -13.0,0zM1313.5,720a6.5,6.5 0 1 0 13.0,0a6.5,6.5 0 1 0 -13.0,0zM1393.5,720a6.5,6.5 0 1 0 13.0,0a6.5,6.5 0 1 0 -13.0,0zM73.5,760a6.5,6.5 0 1 0 13.0,0a6.5,6.5 0 1 0 -13.0,0zM873.5,720a6.5,6.5 0 1 0 13.0,0a6.5,6.5 0 1 0 -13.0,0zM873.5,760a6.5,6.5 0 1 0 13.0,0a6.5,6.5 0 1 0 -13.0,0zM913.5,760a6.5,6.5 0 1 0 13.0,0a6.5,6.5 0 1 0 -13.0,0zM953.5,720a6.5,6.5 0 1 0 13.0,0a6.5,6.5 0 1 0 -13.0,0zM1953.5,720a6.5,6.5 0 1 0 13.0,0a6.5,6.5 0 1 0 -13.0,0zM1993.5,760a6.5,6.5 0 1 0 13.0,0a6.5,6.5 0 1 0 -13.0,0zM2033.5,760a6.5,6.5 0 1 0 13.0,0a6.5,6.5 0 1 0 -13.0,0zM33.5,800a6.5,6.5 0 1 0 13.0,0a6.5,6.5 0 1 0 -13.0,0zM73.5,800a6.5,6.5 0 1 0 13.0,0a6.5,6.5 0 1 0 -13.0,0zM113.5,760a6.5,6.5 0 1 0 13.0,0a6.5,6.5 0 1 0 -13.0,0zM1913.5,760a6.5,6.5 0 1 0 13.0,0a6.5,6.5 0 1 0 -13.0,0zM1953.5,800a6.5,6.5 0 1 0 13.0,0a6.5,6.5 0 1 0 -13.0,0zM1993.5,800a6.5,6.5 0 1 0 13.0,0a6.5,6.5 0 1 0 -13.0,0zM193.5,840a6.5,6.5 0 1 0 13.0,0a6.5,6.5 0 1 0 -13.0,0zM1313.5,840a6.5,6.5 0 1 0 13.0,0a6.5,6.5 0 1 0 -13.0,0zM1873.5,800a6.5,6.5 0 1 0 13.0,0a6.5,6.5 0 1 0 -13.0,0zM1913.5,840a6.5,6.5 0 1 0 13.0,0a6.5,6.5 0 1 0 -13.0,0zM1953.5,840a6.5,6.5 0 1 0 13.0,0a6.5,6.5 0 1 0 -13.0,0zM153.5,880a6.5,6.5 0 1 0 13.0,0a6.5,6.5 0 1 0 -13.0,0zM193.5,880a6.5,6.5 0 1 0 13.0,0a6.5,6.5 0 1 0 -13.0,0zM233.5,840a6.5,6.5 0 1 0 13.0,0a6.5,6.5 0 1 0 -13.0,0zM273.5,840a6.5,6.5 0 1 0 13.0,0a6.5,6.5 0 1 0 -13.0,0zM273.5,880a6.5,6.5 0 1 0 13.0,0a6.5,6.5 0 1 0 -13.0,0zM1353.5,840a6.5,6.5 0 1 0 13.0,0a6.5,6.5 0 1 0 -13.0,0zM1393.5,880a6.5,6.5 0 1 0 13.0,0a6.5,6.5 0 1 0 -13.0,0zM1833.5,840a6.5,6.5 0 1 0 13.0,0a6.5,6.5 0 1 0 -13.0,0zM1873.5,880a6.5,6.5 0 1 0 13.0,0a6.5,6.5 0 1 0 -13.0,0zM1913.5,880a6.5,6.5 0 1 0 13.0,0a6.5,6.5 0 1 0 -13.0,0zM153.5,920a6.5,6.5 0 1 0 13.0,0a6.5,6.5 0 1 0 -13.0,0zM273.5,920a6.5,6.5 0 1 0 13.0,0a6.5,6.5 0 1 0 -13.0,0zM313.5,880a6.5,6.5 0 1 0 13.0,0a6.5,6.5 0 1 0 -13.0,0zM313.5,920a6.5,6.5 0 1 0 13.0,0a6.5,6.5 0 1 0 -13.0,0zM1113.5,880a6.5,6.5 0 1 0 13.0,0a6.5,6.5 0 1 0 -13.0,0zM1153.5,920a6.5,6.5 0 1 0 13.0,0a6.5,6.5 0 1 0 -13.0,0zM1873.5,920a6.5,6.5 0 1 0 13.0,0a6.5,6.5 0 1 0 -13.0,0zM273.5,960a6.5,6.5 0 1 0 13.0,0a6.5,6.5 0 1 0 -13.0,0zM313.5,960a6.5,6.5 0 1 0 13.0,0a6.5,6.5 0 1 0 -13.0,0zM353.5,920a6.5,6.5 0 1 0 13.0,0a6.5,6.5 0 1 0 -13.0,0zM353.5,960a6.5,6.5 0 1 0 13.0,0a6.5,6.5 0 1 0 -13.0,0zM1073.5,920a6.5,6.5 0 1 0 13.0,0a6.5,6.5 0 1 0 -13.0,0zM1113.5,960a6.5,6.5 0 1 0 13.0,0a6.5,6.5 0 1 0 -13.0,0zM1153.5,960a6.5,6.5 0 1 0 13.0,0a6.5,6.5 0 1 0 -13.0,0zM313.5,1000a6.5,6.5 0 1 0 13.0,0a6.5,6.5 0 1 0 -13.0,0zM393.5,1000a6.5,6.5 0 1 0 13.0,0a6.5,6.5 0 1 0 -13.0,0zM473.5,1000a6.5,6.5 0 1 0 13.0,0a6.5,6.5 0 1 0 -13.0,0zM553.5,960a6.5,6.5 0 1 0 13.0,0a6.5,6.5 0 1 0 -13.0,0zM553.5,1000a6.5,6.5 0 1 0 13.0,0a6.5,6.5 0 1 0 -13.0,0zM953.5,960a6.5,6.5 0 1 0 13.0,0a6.5,6.5 0 1 0 -13.0,0zM993.5,1000a6.5,6.5 0 1 0 13.0,0a6.5,6.5 0 1 0 -13.0,0zM1113.5,1000a6.5,6.5 0 1 0 13.0,0a6.5,6.5 0 1 0 -13.0,0zM513.5,1040a6.5,6.5 0 1 0 13.0,0a6.5,6.5 0 1 0 -13.0,0zM873.5,1040a6.5,6.5 0 1 0 13.0,0a6.5,6.5 0 1 0 -13.0,0zM473.5,1080a6.5,6.5 0 1 0 13.0,0a6.5,6.5 0 1 0 -13.0,0zM913.5,1080a6.5,6.5 0 1 0 13.0,0a6.5,6.5 0 1 0 -13.0,0z" fill="#57565c"/>
<path d="M914.8,80a5.2,5.2 0 1 0 10.4,0a5.2,5.2 0 1 0 -10.4,0zM1474.8,80a5.2,5.2 0 1 0 10.4,0a5.2,5.2 0 1 0 -10.4,0zM874.8,120a5.2,5.2 0 1 0 10.4,0a5.2,5.2 0 1 0 -10.4,0zM154.8,160a5.2,5.2 0 1 0 10.4,0a5.2,5.2 0 1 0 -10.4,0zM114.8,200a5.2,5.2 0 1 0 10.4,0a5.2,5.2 0 1 0 -10.4,0zM74.8,240a5.2,5.2 0 1 0 10.4,0a5.2,5.2 0 1 0 -10.4,0zM34.8,280a5.2,5.2 0 1 0 10.4,0a5.2,5.2 0 1 0 -10.4,0zM-5.2,320a5.2,5.2 0 1 0 10.4,0a5.2,5.2 0 1 0 -10.4,0zM1914.8,360a5.2,5.2 0 1 0 10.4,0a5.2,5.2 0 1 0 -10.4,0zM874.8,720a5.2,5.2 0 1 0 10.4,0a5.2,5.2 0 1 0 -10.4,0zM1954.8,720a5.2,5.2 0 1 0 10.4,0a5.2,5.2 0 1 0 -10.4,0zM1914.8,760a5.2,5.2 0 1 0 10.4,0a5.2,5.2 0 1 0 -10.4,0zM1874.8,800a5.2,5.2 0 1 0 10.4,0a5.2,5.2 0 1 0 -10.4,0zM234.8,840a5.2,5.2 0 1 0 10.4,0a5.2,5.2 0 1 0 -10.4,0zM1834.8,840a5.2,5.2 0 1 0 10.4,0a5.2,5.2 0 1 0 -10.4,0zM1114.8,880a5.2,5.2 0 1 0 10.4,0a5.2,5.2 0 1 0 -10.4,0zM1074.8,920a5.2,5.2 0 1 0 10.4,0a5.2,5.2 0 1 0 -10.4,0z" fill="#38373c"/>
<path d="M1114.8,0a5.2,5.2 0 1 0 10.4,0a5.2,5.2 0 1 0 -10.4,0zM1034.8,80a5.2,5.2 0 1 0 10.4,0a5.2,5.2 0 1 0 -10.4,0zM1114.8,320a5.2,5.2 0 1 0 10.4,0a5.2,5.2 0 1 0 -10.4,0zM634.8,360a5.2,5.2 0 1 0 10.4,0a5.2,5.2 0 1 0 -10.4,0zM594.8,400a5.2,5.2 0 1 0 10.4,0a5.2,5.2 0 1 0 -10.4,0zM514.8,400a5.2,5.2 0 1 0 10.4,0a5.2,5.2 0 1 0 -10.4,0zM1314.8,440a5.2,5.2 0 1 0 10.4,0a5.2,5.2 0 1 0 -10.4,0zM1434.8,640a5.2,5.2 0 1 0 10.4,0a5.2,5.2 0 1 0 -10.4,0zM1394.8,680a5.2,5.2 0 1 0 10.4,0a5.2,5.2 0 1 0 -10.4,0zM954.8,960a5.2,5.2 0 1 0 10.4,0a5.2,5.2 0 1 0 -10.4,0zM874.8,1040a5.2,5.2 0 1 0 10.4,0a5.2,5.2 0 1 0 -10.4,0z" fill="#333237"/>
<path d="M1554.8,0a5.2,5.2 0 1 0 10.4,0a5.2,5.2 0 1 0 -10.4,0zM1634.8,80a5.2,5.2 0 1 0 10.4,0a5.2,5.2 0 1 0 -10.4,0zM1954.8,280a5.2,5.2 0 1 0 10.4,0a5.2,5.2 0 1 0 -10.4,0zM1394.8,440a5.2,5.2 0 1 0 10.4,0a5.2,5.2 0 1 0 -10.4,0zM1434.8,480a5.2,5.2 0 1 0 10.4,0a5.2,5.2 0 1 0 -10.4,0zM1514.8,480a5.2,5.2 0 1 0 10.4,0a5.2,5.2 0 1 0 -10.4,0zM594.8,560a5.2,5.2 0 1 0 10.4,0a5.2,5.2 0 1 0 -10.4,0zM634.8,600a5.2,5.2 0 1 0 10.4,0a5.2,5.2 0 1 0 -10.4,0zM114.8,760a5.2,5.2 0 1 0 10.4,0a5.2,5.2 0 1 0 -10.4,0zM1354.8,840a5.2,5.2 0 1 0 10.4,0a5.2,5.2 0 1 0 -10.4,0zM1394.8,880a5.2,5.2 0 1 0 10.4,0a5.2,5.2 0 1 0 -10.4,0zM514.8,1040a5.2,5.2 0 1 0 10.4,0a5.2,5.2 0 1 0 -10.4,0z" fill="#2a292e"/>
<path d="M1554.8,80a5.2,5.2 0 1 0 10.4,0a5.2,5.2 0 1 0 -10.4,0zM1834.8,240a5.2,5.2 0 1 0 10.4,0a5.2,5.2 0 1 0 -10.4,0zM474.8,560a5.2,5.2 0 1 0 10.4,0a5.2,5.2 0 1 0 -10.4,0zM1234.8,680a5.2,5.2 0 1 0 10.4,0a5.2,5.2 0 1 0 -10.4,0zM1274.8,720a5.2,5.2 0 1 0 10.4,0a5.2,5.2 0 1 0 -10.4,0zM154.8,880a5.2,5.2 0 1 0 10.4,0a5.2,5.2 0 1 0 -10.4,0z" fill="#2b2a2f"/>
<path d="M1514.8,40a5.2,5.2 0 1 0 10.4,0a5.2,5.2 0 1 0 -10.4,0zM1474.8,120a5.2,5.2 0 1 0 10.4,0a5.2,5.2 0 1 0 -10.4,0zM1674.8,120a5.2,5.2 0 1 0 10.4,0a5.2,5.2 0 1 0 -10.4,0zM1674.8,160a5.2,5.2 0 1 0 10.4,0a5.2,5.2 0 1 0 -10.4,0zM1714.8,160a5.2,5.2 0 1 0 10.4,0a5.2,5.2 0 1 0 -10.4,0zM634.8,200a5.2,5.2 0 1 0 10.4,0a5.2,5.2 0 1 0 -10.4,0zM1714.8,200a5.2,5.2 0 1 0 10.4,0a5.2,5.2 0 1 0 -10.4,0zM1754.8,200a5.2,5.2 0 1 0 10.4,0a5.2,5.2 0 1 0 -10.4,0zM1834.8,200a5.2,5.2 0 1 0 10.4,0a5.2,5.2 0 1 0 -10.4,0zM674.8,240a5.2,5.2 0 1 0 10.4,0a5.2,5.2 0 1 0 -10.4,0zM714.8,240a5.2,5.2 0 1 0 10.4,0a5.2,5.2 0 1 0 -10.4,0zM1754.8,240a5.2,5.2 0 1 0 10.4,0a5.2,5.2 0 1 0 -10.4,0zM1914.8,320a5.2,5.2 0 1 0 10.4,0a5.2,5.2 0 1 0 -10.4,0zM1954.8,320a5.2,5.2 0 1 0 10.4,0a5.2,5.2 0 1 0 -10.4,0zM1074.8,360a5.2,5.2 0 1 0 10.4,0a5.2,5.2 0 1 0 -10.4,0zM794.8,400a5.2,5.2 0 1 0 10.4,0a5.2,5.2 0 1 0 -10.4,0zM1914.8,400a5.2,5.2 0 1 0 10.4,0a5.2,5.2 0 1 0 -10.4,0zM1954.8,400a5.2,5.2 0 1 0 10.4,0a5.2,5.2 0 1 0 -10.4,0zM474.8,440a5.2,5.2 0 1 0 10.4,0a5.2,5.2 0 1 0 -10.4,0zM1954.8,440a5.2,5.2 0 1 0 10.4,0a5.2,5.2 0 1 0 -10.4,0zM1994.8,440a5.2,5.2 0 1 0 10.4,0a5.2,5.2 0 1 0 -10.4,0zM1274.8,480a5.2,5.2 0 1 0 10.4,0a5.2,5.2 0 1 0 -10.4,0zM1394.8,480a5.2,5.2 0 1 0 10.4,0a5.2,5.2 0 1 0 -10.4,0zM1434.8,520a5.2,5.2 0 1 0 10.4,0a5.2,5.2 0 1 0 -10.4,0zM1554.8,520a5.2,5.2 0 1 0 10.4,0a5.2,5.2 0 1 0 -10.4,0zM514.8,600a5.2,5.2 0 1 0 10.4,0a5.2,5.2 0 1 0 -10.4,0zM594.8,600a5.2,5.2 0 1 0 10.4,0a5.2,5.2 0 1 0 -10.4,0zM634.8,640a5.2,5.2 0 1 0 10.4,0a5.2,5.2 0 1 0 -10.4,0zM-5.2,680a5.2,5.2 0 1 0 10.4,0a5.2,5.2 0 1 0 -10.4,0zM34.8,680a5.2,5.2 0 1 0 10.4,0a5.2,5.2 0 1 0 -10.4,0zM874.8,760a5.2,5.2 0 1 0 10.4,0a5.2,5.2 0 1 0 -10.4,0zM34.8,800a5.2,5.2 0 1 0 10.4,0a5.2,5.2 0 1 0 -10.4,0zM74.8,800a5.2,5.2 0 1 0 10.4,0a5.2,5.2 0 1 0 -10.4,0zM154.8,920a5.2,5.2 0 1 0 10.4,0a5.2,5.2 0 1 0 -10.4,0zM274.8,920a5.2,5.2 0 1 0 10.4,0a5.2,5.2 0 1 0 -10.4,0zM274.8,960a5.2,5.2 0 1 0 10.4,0a5.2,5.2 0 1 0 -10.4,0zM314.8,960a5.2,5.2 0 1 0 10.4,0a5.2,5.2 0 1 0 -10.4,0zM314.8,1000a5.2,5.2 0 1 0 10.4,0a5.2,5.2 0 1 0 -10.4,0zM394.8,1000a5.2,5.2 0 1 0 10.4,0a5.2,5.2 0 1 0 -10.4,0zM474.8,1000a5.2,5.2 0 1 0 10.4,0a5.2,5.2 0 1 0 -10.4,0zM474.8,1080a5.2,5.2 0 1 0 10.4,0a5.2,5.2 0 1 0 -10.4,0z" fill="#232227"/>
<path d="M954.8,120a5.2,5.2 0 1 0 10.4,0a5.2,5.2 0 1 0 -10.4,0zM1714.8,80a5.2,5.2 0 1 0 10.4,0a5.2,5.2 0 1 0 -10.4,0zM1714.8,120a5.2,5.2 0 1 0 10.4,0a5.2,5.2 0 1 0 -10.4,0zM914.8,160a5.2,5.2 0 1 0 10.4,0a5.2,5.2 0 1 0 -10.4,0zM954.8,160a5.2,5.2 0 1 0 10.4,0a5.2,5.2 0 1 0 -10.4,0zM1754.8,120a5.2,5.2 0 1 0 10.4,0a5.2,5.2 0 1 0 -10.4,0zM1754.8,160a5.2,5.2 0 1 0 10.4,0a5.2,5.2 0 1 0 -10.4,0zM194.8,200a5.2,5.2 0 1 0 10.4,0a5.2,5.2 0 1 0 -10.4,0zM754.8,200a5.2,5.2 0 1 0 10.4,0a5.2,5.2 0 1 0 -10.4,0zM914.8,200a5.2,5.2 0 1 0 10.4,0a5.2,5.2 0 1 0 -10.4,0zM1794.8,200a5.2,5.2 0 1 0 10.4,0a5.2,5.2 0 1 0 -10.4,0zM1874.8,160a5.2,5.2 0 1 0 10.4,0a5.2,5.2 0 1 0 -10.4,0zM1874.8,200a5.2,5.2 0 1 0 10.4,0a5.2,5.2 0 1 0 -10.4,0zM154.8,240a5.2,5.2 0 1 0 10.4,0a5.2,5.2 0 1 0 -10.4,0zM194.8,240a5.2,5.2 0 1 0 10.4,0a5.2,5.2 0 1 0 -10.4,0zM1794.8,240a5.2,5.2 0 1 0 10.4,0a5.2,5.2 0 1 0 -10.4,0zM114.8,280a5.2,5.2 0 1 0 10.4,0a5.2,5.2 0 1 0 -10.4,0zM154.8,280a5.2,5.2 0 1 0 10.4,0a5.2,5.2 0 1 0 -10.4,0zM74.8,320a5.2,5.2 0 1 0 10.4,0a5.2,5.2 0 1 0 -10.4,0zM114.8,320a5.2,5.2 0 1 0 10.4,0a5.2,5.2 0 1 0 -10.4,0zM1994.8,280a5.2,5.2 0 1 0 10.4,0a5.2,5.2 0 1 0 -10.4,0zM34.8,360a5.2,5.2 0 1 0 10.4,0a5.2,5.2 0 1 0 -10.4,0zM74.8,360a5.2,5.2 0 1 0 10.4,0a5.2,5.2 0 1 0 -10.4,0zM754.8,360a5.2,5.2 0 1 0 10.4,0a5.2,5.2 0 1 0 -10.4,0zM1154.8,320a5.2,5.2 0 1 0 10.4,0a5.2,5.2 0 1 0 -10.4,0zM1154.8,360a5.2,5.2 0 1 0 10.4,0a5.2,5.2 0 1 0 -10.4,0zM1994.8,400a5.2,5.2 0 1 0 10.4,0a5.2,5.2 0 1 0 -10.4,0zM2034.8,400a5.2,5.2 0 1 0 10.4,0a5.2,5.2 0 1 0 -10.4,0zM34.8,640a5.2,5.2 0 1 0 10.4,0a5.2,5.2 0 1 0 -10.4,0zM74.8,640a5.2,5.2 0 1 0 10.4,0a5.2,5.2 0 1 0 -10.4,0zM74.8,680a5.2,5.2 0 1 0 10.4,0a5.2,5.2 0 1 0 -10.4,0zM114.8,680a5.2,5.2 0 1 0 10.4,0a5.2,5.2 0 1 0 -10.4,0zM74.8,720a5.2,5.2 0 1 0 10.4,0a5.2,5.2 0 1 0 -10.4,0zM114.8,720a5.2,5.2 0 1 0 10.4,0a5.2,5.2 0 1 0 -10.4,0zM1314.8,720a5.2,5.2 0 1 0 10.4,0a5.2,5.2 0 1 0 -10.4,0zM74.8,760a5.2,5.2 0 1 0 10.4,0a5.2,5.2 0 1 0 -10.4,0zM1994.8,760a5.2,5.2 0 1 0 10.4,0a5.2,5.2 0 1 0 -10.4,0zM2034.8,760a5.2,5.2 0 1 0 10.4,0a5.2,5.2 0 1 0 -10.4,0zM1954.8,800a5.2,5.2 0 1 0 10.4,0a5.2,5.2 0 1 0 -10.4,0zM1994.8,800a5.2,5.2 0 1 0 10.4,0a5.2,5.2 0 1 0 -10.4,0zM194.8,840a5.2,5.2 0 1 0 10.4,0a5.2,5.2 0 1 0 -10.4,0zM1314.8,840a5.2,5.2 0 1 0 10.4,0a5.2,5.2 0 1 0 -10.4,0zM1914.8,840a5.2,5.2 0 1 0 10.4,0a5.2,5.2 0 1 0 -10.4,0zM1954.8,840a5.2,5.2 0 1 0 10.4,0a5.2,5.2 0 1 0 -10.4,0zM194.8,880a5.2,5.2 0 1 0 10.4,0a5.2,5.2 0 1 0 -10.4,0zM274.8,840a5.2,5.2 0 1 0 10.4,0a5.2,5.2 0 1 0 -10.4,0zM274.8,880a5.2,5.2 0 1 0 10.4,0a5.2,5.2 0 1 0 -10.4,0zM1874.8,880a5.2,5.2 0 1 0 10.4,0a5.2,5.2 0 1 0 -10.4,0zM1914.8,880a5.2,5.2 0 1 0 10.4,0a5.2,5.2 0 1 0 -10.4,0zM314.8,880a5.2,5.2 0 1 0 10.4,0a5.2,5.2 0 1 0 -10.4,0zM314.8,920a5.2,5.2 0 1 0 10.4,0a5.2,5.2 0 1 0 -10.4,0zM1154.8,920a5.2,5.2 0 1 0 10.4,0a5.2,5.2 0 1 0 -10.4,0zM1874.8,920a5.2,5.2 0 1 0 10.4,0a5.2,5.2 0 1 0 -10.4,0zM354.8,920a5.2,5.2 0 1 0 10.4,0a5.2,5.2 0 1 0 -10.4,0zM354.8,960a5.2,5.2 0 1 0 10.4,0a5.2,5.2 0 1 0 -10.4,0zM1114.8,960a5.2,5.2 0 1 0 10.4,0a5.2,5.2 0 1 0 -10.4,0zM1154.8,960a5.2,5.2 0 1 0 10.4,0a5.2,5.2 0 1 0 -10.4,0zM554.8,960a5.2,5.2 0 1 0 10.4,0a5.2,5.2 0 1 0 -10.4,0zM554.8,1000a5.2,5.2 0 1 0 10.4,0a5.2,5.2 0 1 0 -10.4,0zM1114.8,1000a5.2,5.2 0 1 0 10.4,0a5.2,5.2 0 1 0 -10.4,0z" fill="#222126"/>
<path d="M1154.8,40a5.2,5.2 0 1 0 10.4,0a5.2,5.2 0 1 0 -10.4,0zM1074.8,120a5.2,5.2 0 1 0 10.4,0a5.2,5.2 0 1 0 -10.4,0zM634.8,400a5.2,5.2 0 1 0 10.4,0a5.2,5.2 0 1 0 -10.4,0zM594.8,440a5.2,5.2 0 1 0 10.4,0a5.2,5.2 0 1 0 -10.4,0zM714.8,640a5.2,5.2 0 1 0 10.4,0a5.2,5.2 0 1 0 -10.4,0zM754.8,600a5.2,5.2 0 1 0 10.4,0a5.2,5.2 0 1 0 -10.4,0zM1434.8,680a5.2,5.2 0 1 0 10.4,0a5.2,5.2 0 1 0 -10.4,0zM1514.8,680a5.2,5.2 0 1 0 10.4,0a5.2,5.2 0 1 0 -10.4,0zM1554.8,640a5.2,5.2 0 1 0 10.4,0a5.2,5.2 0 1 0 -10.4,0zM1394.8,720a5.2,5.2 0 1 0 10.4,0a5.2,5.2 0 1 0 -10.4,0zM914.8,760a5.2,5.2 0 1 0 10.4,0a5.2,5.2 0 1 0 -10.4,0zM954.8,720a5.2,5.2 0 1 0 10.4,0a5.2,5.2 0 1 0 -10.4,0zM994.8,1000a5.2,5.2 0 1 0 10.4,0a5.2,5.2 0 1 0 -10.4,0zM914.8,1080a5.2,5.2 0 1 0 10.4,0a5.2,5.2 0 1 0 -10.4,0z" fill="#1e1d22"/>
<path d="M1120,0L1140,0M1140,0L1160,0M1160,0L1180,0M1180,0L1200,0M1200,0L1220,0M1220,0L1240,0M1240,0L1260,0M1260,0L1280,0M1280,0L1300,0M1300,0L1320,0M1320,0L1340,0M1340,0L1360,0M1360,0L1380,0M1380,0L1400,0M1400,0L1420,0M1420,0L1440,0M1440,0L1460,0M1460,0L1480,0M1480,0L1500,0M1500,0L1520,0M1520,0L1540,0M1540,0L1560,0M920,80L940,80M940,80L960,80M960,80L980,80M980,80L1000,80M1000,80L1020,80M1020,80L1040,80M1480,80L1500,80M1500,80L1520,80M1520,80L1540,80M1540,80L1560,80M1640,80L1660,80M1660,80L1680,80M1680,80L1700,80M1700,80L1720,80M880,120L900,120M900,120L920,120M1720,120L1740,120M1740,120L1760,120M160,160L180,160M180,160L200,160M200,160L220,160M220,160L240,160M240,160L260,160M260,160L280,160M280,160L300,160M300,160L320,160M320,160L340,160M340,160L360,160M360,160L380,160M380,160L400,160M400,160L420,160M420,160L440,160M440,160L460,160M460,160L480,160M480,160L500,160M500,160L520,160M520,160L540,160M540,160L560,160M560,160L580,160M580,160L600,160M600,160L620,160M620,160L640,160M640,160L660,160M660,160L680,160M680,160L700,160M700,160L720,160M720,160L740,160M740,160L760,160M760,160L780,160M780,160L800,160M800,160L820,160M820,160L840,160M840,160L860,160M860,160L880,160M1760,160L1780,160M1780,160L1800,160M1800,160L1820,160M1820,160L1840,160M1840,160L1860,160M1860,160L1880,160M120,200L140,200M140,200L160,200M80,240L100,240M100,240L120,240M40,280L60,280M60,280L80,280M1960,280L1980,280M1980,280L2000,280M0,320L20,320M20,320L40,320M1120,320L1140,320M1140,320L1160,320M640,360L660,360M660,360L680,360M680,360L700,360M700,360L720,360M1920,360L1940,360M1940,360L1960,360M520,400L540,400M540,400L560,400M560,400L580,400M580,400L600,400M2000,400L2020,400M2020,400L2040,400M1320,440L1340,440M1340,440L1360,440M1360,440L1380,440M1380,440L1400,440M1440,480L1460,480M1460,480L1480,480M1480,480L1500,480M1500,480L1520,480M480,560L500,560M500,560L520,560M520,560L540,560M540,560L560,560M560,560L580,560M580,560L600,560M640,600L660,600M660,600L680,600M680,600L700,600M700,600L720,600M720,600L740,600M740,600L760,600M40,640L60,640M60,640L80,640M1440,640L1460,640M1460,640L1480,640M1480,640L1500,640M1500,640L1520,640M1520,640L1540,640M1540,640L1560,640M80,680L100,680M100,680L120,680M1240,680L1260,680M1260,680L1280,680M1280,680L1300,680M1300,680L1320,680M1320,680L1340,680M1340,680L1360,680M1360,680L1380,680M1380,680L1400,680M880,720L900,720M900,720L920,720M920,720L940,720M940,720L960,720M1960,720L1980,720M1980,720L2000,720M80,760L100,760M100,760L120,760M1920,760L1940,760M1940,760L1960,760M1880,800L1900,800M1900,800L1920,800M240,840L260,840M260,840L280,840M1320,840L1340,840M1340,840L1360,840M1840,840L1860,840M1860,840L1880,840M200,880L220,880M220,880L240,880M280,880L300,880M300,880L320,880M1120,880L1140,880M1140,880L1160,880M1160,880L1180,880M1180,880L1200,880M1200,880L1220,880M1220,880L1240,880M1240,880L1260,880M1260,880L1280,880M1400,880L1420,880M1420,880L1440,880M1440,880L1460,880M1460,880L1480,880M1480,880L1500,880M1500,880L1520,880M1520,880L1540,880M1540,880L1560,880M1560,880L1580,880M1580,880L1600,880M1600,880L1620,880M1620,880L1640,880M1640,880L1660,880M1660,880L1680,880M1680,880L1700,880M1700,880L1720,880M1720,880L1740,880M1740,880L1760,880M1760,880L1780,880M1780,880L1800,880M1800,880L1820,880M1820,880L1840,880M320,920L340,920M340,920L360,920M1080,920L1100,920M1100,920L1120,920M360,960L380,960M380,960L400,960M400,960L420,960M420,960L440,960M440,960L460,960M460,960L480,960M480,960L500,960M500,960L520,960M520,960L540,960M540,960L560,960M960,960L980,960M980,960L1000,960M1000,960L1020,960M1020,960L1040,960M1040,960L1060,960M1060,960L1080,960M520,1040L540,1040M540,1040L560,1040M560,1040L580,1040M580,1040L600,1040M600,1040L620,1040M620,1040L640,1040M640,1040L660,1040M660,1040L680,1040M680,1040L700,1040M700,1040L720,1040M720,1040L740,1040M740,1040L760,1040M760,1040L780,1040M780,1040L800,1040M800,1040L820,1040M820,1040L840,1040M840,1040L860,1040M860,1040L880,1040" stroke="#37363b" stroke-width="10.4" fill="none"/>
<path d="M920,80L920,100M1480,80L1480,100M1480,100L1480,120M880,120L880,140M1680,120L1680,140M1680,140L1680,160M160,160L160,180M1720,160L1720,180M1720,180L1720,200M120,200L120,220M1760,200L1760,220M1760,220L1760,240M1840,200L1840,220M1840,220L1840,240M80,240L80,260M720,240L720,260M720,260L720,280M40,280L40,300M720,280L720,300M720,300L720,320M0,320L0,340M0,340L0,360M720,320L720,340M1960,320L1960,340M0,360L0,380M0,380L0,400M1920,360L1920,380M1920,380L1920,400M0,400L0,420M0,420L0,440M1960,400L1960,420M1960,420L1960,440M0,440L0,460M0,460L0,480M2000,440L2000,460M2000,460L2000,480M0,480L0,500M0,500L0,520M2000,480L2000,500M2000,500L2000,520M0,520L0,540M0,540L0,560M2000,520L2000,540M2000,540L2000,560M0,560L0,580M0,580L0,600M2000,560L2000,580M2000,580L2000,600M0,600L0,620M0,620L0,640M2000,600L2000,620M2000,620L2000,640M0,640L0,660M0,660L0,680M2000,640L2000,660M2000,660L2000,680M40,680L40,700M40,700L40,720M2000,680L2000,700M40,720L40,740M40,740L40,760M880,720L880,740M880,740L880,760M1280,720L1280,740M1280,740L1280,760M1960,720L1960,740M40,760L40,780M40,780L40,800M1280,760L1280,780M1280,780L1280,800M1920,760L1920,780M1280,800L1280,820M1280,820L1280,840M1880,800L1880,820M240,840L240,860M1280,840L1280,860M1840,840L1840,860M160,880L160,900M160,900L160,920M1120,880L1120,900M280,920L280,940M280,940L280,960M1080,920L1080,940M320,960L320,980M320,980L320,1000" stroke="#38373c" stroke-width="10.4" fill="none"/>
<path d="M1120,0L1100,20M1100,20L1080,40M1080,40L1060,60M1060,60L1040,80M1120,320L1100,340M1100,340L1080,360M640,360L620,380M620,380L600,400M520,400L500,420M500,420L480,440M1320,440L1300,460M1300,460L1280,480M1440,640L1420,660M1420,660L1400,680M960,960L940,980M940,980L920,1000M920,1000L900,1020M900,1020L880,1040" stroke="#333237" stroke-width="8.6" fill="none"/>
<path d="M1560,0L1580,20M1580,20L1600,40M1600,40L1620,60M1620,60L1640,80M1880,200L1900,220M1900,220L1920,240M1920,240L1940,260M1940,260L1960,280M760,360L780,380M780,380L800,400M1400,440L1420,460M1420,460L1440,480M1520,480L1540,500M1540,500L1560,520M600,560L620,580M620,580L640,600M120,760L140,780M140,780L160,800M160,800L180,820M180,820L200,840M1360,840L1380,860M1380,860L1400,880M480,1000L500,1020M500,1020L520,1040" stroke="#2a292e" stroke-width="8.6" fill="none"/>
<path d="M1520,40L1540,60M1540,60L1560,80M640,200L660,220M660,220L680,240M1840,240L1860,260M1860,260L1880,280M1880,280L1900,300M1900,300L1920,320M1400,480L1420,500M1420,500L1440,520M480,560L500,580M500,580L520,600M600,600L620,620M620,620L640,640M1240,680L1260,700M1260,700L1280,720M80,800L100,820M100,820L120,840M120,840L140,860M140,860L160,880M400,1000L420,1020M420,1020L440,1040M440,1040L460,1060M460,1060L480,1080" stroke="#2b2a2f" stroke-width="8.6" fill="none"/>
<path d="M1160,40L1180,40M1180,40L1200,40M1200,40L1220,40M1220,40L1240,40M1240,40L1260,40M1260,40L1280,40M1280,40L1300,40M1300,40L1320,40M1320,40L1340,40M1340,40L1360,40M1360,40L1380,40M1380,40L1400,40M1400,40L1420,40M1420,40L1440,40M1440,40L1460,40M1460,40L1480,40M1480,40L1500,40M1500,40L1520,40M960,120L980,120M980,120L1000,120M1000,120L1020,120M1020,120L1040,120M1040,120L1060,120M1060,120L1080,120M1480,120L1500,120M1500,120L1520,120M1520,120L1540,120M1540,120L1560,120M1560,120L1580,120M1580,120L1600,120M1600,120L1620,120M1620,120L1640,120M1640,120L1660,120M1660,120L1680,120M920,160L940,160M940,160L960,160M1680,160L1700,160M1700,160L1720,160M200,200L220,200M220,200L240,200M240,200L260,200M260,200L280,200M280,200L300,200M300,200L320,200M320,200L340,200M340,200L360,200M360,200L380,200M380,200L400,200M400,200L420,200M420,200L440,200M440,200L460,200M460,200L480,200M480,200L500,200M500,200L520,200M520,200L540,200M540,200L560,200M560,200L580,200M580,200L600,200M600,200L620,200M620,200L640,200M760,200L780,200M780,200L800,200M800,200L820,200M820,200L840,200M840,200L860,200M860,200L880,200M880,200L900,200M900,200L920,200M1720,200L1740,200M1740,200L1760,200M1800,200L1820,200M1820,200L1840,200M160,240L180,240M180,240L200,240M680,240L700,240M700,240L720,240M1760,240L1780,240M1780,240L1800,240M120,280L140,280M140,280L160,280M80,320L100,320M100,320L120,320M1920,320L1940,320M1940,320L1960,320M40,360L60,360M60,360L80,360M1080,360L1100,360M1100,360L1120,360M1120,360L1140,360M1140,360L1160,360M640,400L660,400M660,400L680,400M680,400L700,400M700,400L720,400M720,400L740,400M740,400L760,400M760,400L780,400M780,400L800,400M1920,400L1940,400M1940,400L1960,400M480,440L500,440M500,440L520,440M520,440L540,440M540,440L560,440M560,440L580,440M580,440L600,440M1960,440L1980,440M1980,440L2000,440M1280,480L1300,480M1300,480L1320,480M1320,480L1340,480M1340,480L1360,480M1360,480L1380,480M1380,480L1400,480M1440,520L1460,520M1460,520L1480,520M1480,520L1500,520M1500,520L1520,520M1520,520L1540,520M1540,520L1560,520M520,600L540,600M540,600L560,600M560,600L580,600M580,600L600,600M640,640L660,640M660,640L680,640M680,640L700,640M700,640L720,640M0,680L20,680M20,680L40,680M1440,680L1460,680M1460,680L1480,680M1480,680L1500,680M1500,680L1520,680M80,720L100,720M100,720L120,720M1320,720L1340,720M1340,720L1360,720M1360,720L1380,720M1380,720L1400,720M880,760L900,760M900,760L920,760M2000,760L2020,760M2020,760L2040,760M40,800L60,800M60,800L80,800M1960,800L1980,800M1980,800L2000,800M1920,840L1940,840M1940,840L1960,840M1880,880L1900,880M1900,880L1920,880M160,920L180,920M180,920L200,920M200,920L220,920M220,920L240,920M240,920L260,920M260,920L280,920M1160,920L1180,920M1180,920L1200,920M1200,920L1220,920M1220,920L1240,920M1240,920L1260,920M1260,920L1280,920M1280,920L1300,920M1300,920L1320,920M1320,920L1340,920M1340,920L1360,920M1360,920L1380,920M1380,920L1400,920M1400,920L1420,920M1420,920L1440,920M1440,920L1460,920M1460,920L1480,920M1480,920L1500,920M1500,920L1520,920M1520,920L1540,920M1540,920L1560,920M1560,920L1580,920M1580,920L1600,920M1600,920L1620,920M1620,920L1640,920M1640,920L1660,920M1660,920L1680,920M1680,920L1700,920M1700,920L1720,920M1720,920L1740,920M1740,920L1760,920M1760,920L1780,920M1780,920L1800,920M1800,920L1820,920M1820,920L1840,920M1840,920L1860,920M1860,920L1880,920M280,960L300,960M300,960L320,960M1120,960L1140,960M1140,960L1160,960M320,1000L340,1000M340,1000L360,1000M360,1000L380,1000M380,1000L400,1000M480,1000L500,1000M500,1000L520,1000M520,1000L540,1000M540,1000L560,1000M1000,1000L1020,1000M1020,1000L1040,1000M1040,1000L1060,1000M1060,1000L1080,1000M1080,1000L1100,1000M1100,1000L1120,1000M480,1080L500,1080M500,1080L520,1080M520,1080L540,1080M540,1080L560,1080M560,1080L580,1080M580,1080L600,1080M600,1080L620,1080M620,1080L640,1080M640,1080L660,1080M660,1080L680,1080M680,1080L700,1080M700,1080L720,1080M720,1080L740,1080M740,1080L760,1080M760,1080L780,1080M780,1080L800,1080M800,1080L820,1080M820,1080L840,1080M840,1080L860,1080M860,1080L880,1080M880,1080L900,1080M900,1080L920,1080" stroke="#232227" stroke-width="10.4" fill="none"/>
<path d="M1720,80L1720,100M1720,100L1720,120M960,120L960,140M960,140L960,160M1760,120L1760,140M1760,140L1760,160M920,160L920,180M920,180L920,200M1880,160L1880,180M1880,180L1880,200M200,200L200,220M200,220L200,240M760,200L760,220M760,220L760,240M1800,200L1800,220M1800,220L1800,240M160,240L160,260M160,260L160,280M760,240L760,260M760,260L760,280M120,280L120,300M120,300L120,320M760,280L760,300M760,300L760,320M2000,280L2000,300M2000,300L2000,320M80,320L80,340M80,340L80,360M760,320L760,340M760,340L760,360M1160,320L1160,340M1160,340L1160,360M2000,320L2000,340M2000,340L2000,360M40,360L40,380M40,380L40,400M2000,360L2000,380M2000,380L2000,400M40,400L40,420M40,420L40,440M2040,400L2040,420M2040,420L2040,440M40,440L40,460M40,460L40,480M2040,440L2040,460M2040,460L2040,480M40,480L40,500M40,500L40,520M2040,480L2040,500M2040,500L2040,520M40,520L40,540M40,540L40,560M2040,520L2040,540M2040,540L2040,560M40,560L40,580M40,580L40,600M2040,560L2040,580M2040,580L2040,600M40,600L40,620M40,620L40,640M2040,600L2040,620M2040,620L2040,640M80,640L80,660M80,660L80,680M2040,640L2040,660M2040,660L2040,680M120,680L120,700M120,700L120,720M2040,680L2040,700M2040,700L2040,720M80,720L80,740M80,740L80,760M1320,720L1320,740M1320,740L1320,760M2040,720L2040,740M2040,740L2040,760M1320,760L1320,780M1320,780L1320,800M2000,760L2000,780M2000,780L2000,800M1320,800L1320,820M1320,820L1320,840M1960,800L1960,820M1960,820L1960,840M200,840L200,860M200,860L200,880M280,840L280,860M280,860L280,880M1920,840L1920,860M1920,860L1920,880M320,880L320,900M320,900L320,920M1880,880L1880,900M1880,900L1880,920M360,920L360,940M360,940L360,960M1160,920L1160,940M1160,940L1160,960M560,960L560,980M560,980L560,1000M1120,960L1120,980M1120,980L1120,1000" stroke="#222126" stroke-width="10.4" fill="none"/>
<path d="M1160,40L1140,60M1140,60L1120,80M1120,80L1100,100M1100,100L1080,120M640,400L620,420M620,420L600,440M760,600L740,620M740,620L720,640M1560,640L1540,660M1540,660L1520,680M1440,680L1420,700M1420,700L1400,720M960,720L940,740M940,740L920,760M1000,1000L980,1020M980,1020L960,1040M960,1040L940,1060M940,1060L920,1080" stroke="#1e1d22" stroke-width="8.6" fill="none"/>
<rect x="935.2" y="116.5" width="4.6" height="23.5" rx="1.5" fill="#26252a"/>
<rect x="895.2" y="156.5" width="4.6" height="23.5" rx="1.5" fill="#26252a"/>
<rect x="175.2" y="196.5" width="4.6" height="23.5" rx="1.5" fill="#26252a"/>
<rect x="135.2" y="236.5" width="4.6" height="23.5" rx="1.5" fill="#26252a"/>
<rect x="95.2" y="276.5" width="4.6" height="23.5" rx="1.5" fill="#26252a"/>
<rect x="55.2" y="316.5" width="4.6" height="23.5" rx="1.5" fill="#26252a"/>
<rect x="735.2" y="356.5" width="4.6" height="23.5" rx="1.5" fill="#26252a"/>
<rect x="1975.2" y="356.5" width="4.6" height="23.5" rx="1.5" fill="#26252a"/>
<rect x="2015.2" y="716.5" width="4.6" height="23.5" rx="1.5" fill="#26252a"/>
<rect x="1975.2" y="756.5" width="4.6" height="23.5" rx="1.5" fill="#26252a"/>
<rect x="1935.2" y="796.5" width="4.6" height="23.5" rx="1.5" fill="#26252a"/>
<rect x="1895.2" y="836.5" width="4.6" height="23.5" rx="1.5" fill="#26252a"/>
<rect x="255.2" y="876.5" width="4.6" height="23.5" rx="1.5" fill="#26252a"/>
<rect x="1295.2" y="876.5" width="4.6" height="23.5" rx="1.5" fill="#26252a"/>
<rect x="1855.2" y="876.5" width="4.6" height="23.5" rx="1.5" fill="#26252a"/>
<rect x="1135.2" y="916.5" width="4.6" height="23.5" rx="1.5" fill="#26252a"/>
<rect x="1095.2" y="956.5" width="4.6" height="23.5" rx="1.5" fill="#26252a"/>
</g>
<use href="#spike" x="1500" y="60"/>
<use href="#bomb" x="780" y="220"/>
<use href="#by" x="1620" y="220"/>
<use href="#spike" x="1820" y="220"/>
<use href="#ball" x="700" y="260"/>
<use href="#by" x="420" y="300"/>
<use href="#pup" x="580" y="300"/>
<use href="#ball" x="700" y="300"/>
<use href="#bomb" x="1860" y="300"/>
<use href="#ball" x="700" y="340"/>
<use href="#spike" x="1180" y="340"/>
<use href="#spike" x="1940" y="340"/>
<use href="#by" x="1220" y="380"/>
<use href="#bt" x="1260" y="420"/>
<use href="#gate" x="540" y="460"/>
<use href="#fr" x="220" y="500"/>
<use href="#btn" x="500" y="500"/>
<use href="#btn" x="540" y="500"/>
<use href="#btn" x="580" y="500"/>
<use href="#disc" x="700" y="500"/>
<use href="#gate" x="540" y="540"/>
<use href="#pup" x="1020" y="540"/>
<use href="#gate" x="1500" y="540"/>
<use href="#disc" x="1340" y="580"/>
<use href="#btn" x="1460" y="580"/>
<use href="#btn" x="1500" y="580"/>
<use href="#btn" x="1540" y="580"/>
<use href="#fb" x="1820" y="580"/>
<use href="#gate" x="1500" y="620"/>
<use href="#bo" x="780" y="660"/>
<use href="#by" x="820" y="700"/>
<use href="#spike" x="100" y="740"/>
<use href="#spike" x="860" y="740"/>
<use href="#ball" x="1340" y="740"/>
<use href="#bomb" x="180" y="780"/>
<use href="#ball" x="1340" y="780"/>
<use href="#pup" x="1460" y="780"/>
<use href="#by" x="1620" y="780"/>
<use href="#ball" x="1340" y="820"/>
<use href="#spike" x="220" y="860"/>
<use href="#by" x="420" y="860"/>
<use href="#bomb" x="1260" y="860"/>
<use href="#spike" x="540" y="1020"/>
</svg></body></html>
